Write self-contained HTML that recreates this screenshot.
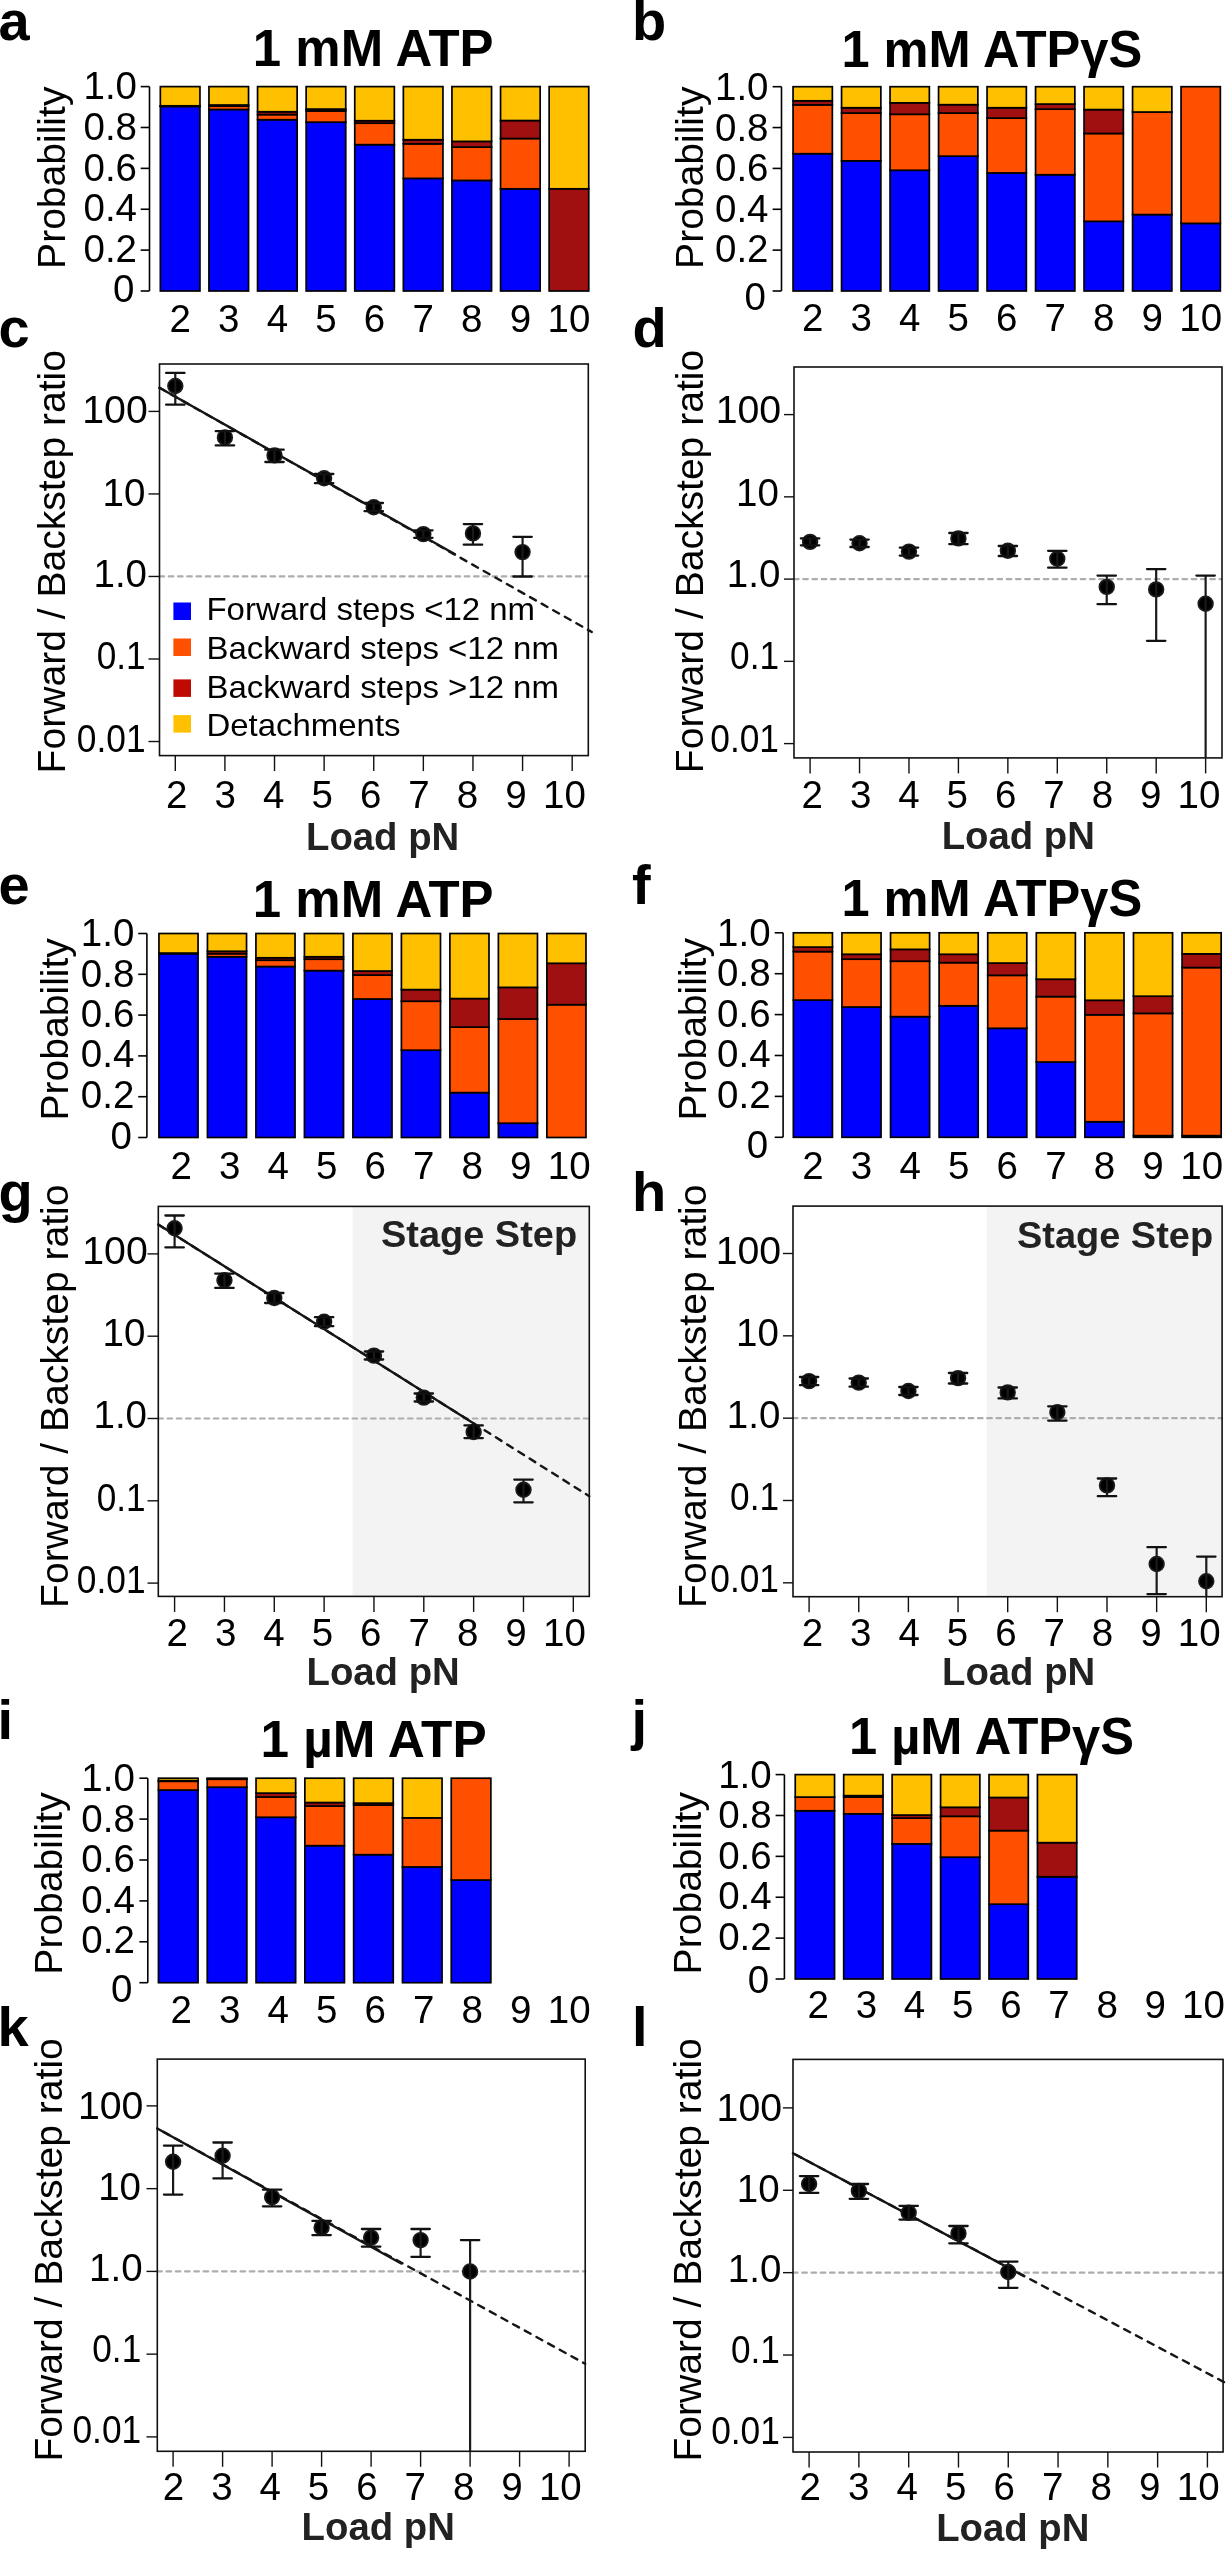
<!DOCTYPE html>
<html><head><meta charset="utf-8"><style>
html,body{margin:0;padding:0;background:#fff;}
svg{display:block;will-change:transform;}
text{font-family:"Liberation Sans", sans-serif;}
</style></head><body>
<svg width="1226" height="2550" viewBox="0 0 1226 2550">
<rect x="0" y="0" width="1226" height="2550" fill="#fff"/>
<text transform="translate(-1.50 40.00)" font-size="56" text-anchor="start" font-weight="bold" fill="#000">a</text>
<text transform="translate(373.20 66.20) scale(0.9710 1)" font-size="52.5" text-anchor="middle" font-weight="bold" fill="#000">1 mM ATP</text>
<line x1="149.50" y1="86.60" x2="149.50" y2="291.00" stroke="#000" stroke-width="1.6" stroke-linecap="butt"/>
<line x1="140.70" y1="291.00" x2="149.50" y2="291.00" stroke="#000" stroke-width="1.6" stroke-linecap="butt"/>
<line x1="140.70" y1="250.12" x2="149.50" y2="250.12" stroke="#000" stroke-width="1.6" stroke-linecap="butt"/>
<line x1="140.70" y1="209.24" x2="149.50" y2="209.24" stroke="#000" stroke-width="1.6" stroke-linecap="butt"/>
<line x1="140.70" y1="168.36" x2="149.50" y2="168.36" stroke="#000" stroke-width="1.6" stroke-linecap="butt"/>
<line x1="140.70" y1="127.48" x2="149.50" y2="127.48" stroke="#000" stroke-width="1.6" stroke-linecap="butt"/>
<line x1="140.70" y1="86.60" x2="149.50" y2="86.60" stroke="#000" stroke-width="1.6" stroke-linecap="butt"/>
<text transform="translate(134.50 302.30)" font-size="38.5" text-anchor="end" font-weight="normal" fill="#000">0</text>
<text transform="translate(137.00 261.60)" font-size="38.5" text-anchor="end" font-weight="normal" fill="#000">0.2</text>
<text transform="translate(137.00 221.00)" font-size="38.5" text-anchor="end" font-weight="normal" fill="#000">0.4</text>
<text transform="translate(137.00 180.60)" font-size="38.5" text-anchor="end" font-weight="normal" fill="#000">0.6</text>
<text transform="translate(137.00 140.00)" font-size="38.5" text-anchor="end" font-weight="normal" fill="#000">0.8</text>
<text transform="translate(137.00 99.20)" font-size="38.5" text-anchor="end" font-weight="normal" fill="#000">1.0</text>
<text transform="translate(64.50 177.75) rotate(-90) scale(1.0070 1)" font-size="38.8" text-anchor="middle" font-weight="normal" fill="#000">Probability</text>
<rect x="160.35" y="106.43" width="39.60" height="184.57" fill="#0000ff" stroke="#000" stroke-width="1.7"/>
<rect x="160.35" y="106.22" width="39.60" height="0.20" fill="#ff5000" stroke="#000" stroke-width="1.7"/>
<rect x="160.35" y="105.81" width="39.60" height="0.41" fill="#a01010" stroke="#000" stroke-width="1.7"/>
<rect x="160.35" y="86.60" width="39.60" height="19.21" fill="#ffc000" stroke="#000" stroke-width="1.7"/>
<rect x="208.95" y="109.49" width="39.60" height="181.51" fill="#0000ff" stroke="#000" stroke-width="1.7"/>
<rect x="208.95" y="106.02" width="39.60" height="3.47" fill="#ff5000" stroke="#000" stroke-width="1.7"/>
<rect x="208.95" y="105.00" width="39.60" height="1.02" fill="#a01010" stroke="#000" stroke-width="1.7"/>
<rect x="208.95" y="86.60" width="39.60" height="18.40" fill="#ffc000" stroke="#000" stroke-width="1.7"/>
<rect x="257.55" y="119.71" width="39.60" height="171.29" fill="#0000ff" stroke="#000" stroke-width="1.7"/>
<rect x="257.55" y="114.60" width="39.60" height="5.11" fill="#ff5000" stroke="#000" stroke-width="1.7"/>
<rect x="257.55" y="111.74" width="39.60" height="2.86" fill="#a01010" stroke="#000" stroke-width="1.7"/>
<rect x="257.55" y="86.60" width="39.60" height="25.14" fill="#ffc000" stroke="#000" stroke-width="1.7"/>
<rect x="306.15" y="122.17" width="39.60" height="168.83" fill="#0000ff" stroke="#000" stroke-width="1.7"/>
<rect x="306.15" y="110.92" width="39.60" height="11.24" fill="#ff5000" stroke="#000" stroke-width="1.7"/>
<rect x="306.15" y="109.08" width="39.60" height="1.84" fill="#a01010" stroke="#000" stroke-width="1.7"/>
<rect x="306.15" y="86.60" width="39.60" height="22.48" fill="#ffc000" stroke="#000" stroke-width="1.7"/>
<rect x="354.75" y="144.65" width="39.60" height="146.35" fill="#0000ff" stroke="#000" stroke-width="1.7"/>
<rect x="354.75" y="123.19" width="39.60" height="21.46" fill="#ff5000" stroke="#000" stroke-width="1.7"/>
<rect x="354.75" y="120.73" width="39.60" height="2.45" fill="#a01010" stroke="#000" stroke-width="1.7"/>
<rect x="354.75" y="86.60" width="39.60" height="34.13" fill="#ffc000" stroke="#000" stroke-width="1.7"/>
<rect x="403.35" y="178.38" width="39.60" height="112.62" fill="#0000ff" stroke="#000" stroke-width="1.7"/>
<rect x="403.35" y="143.83" width="39.60" height="34.54" fill="#ff5000" stroke="#000" stroke-width="1.7"/>
<rect x="403.35" y="139.74" width="39.60" height="4.09" fill="#a01010" stroke="#000" stroke-width="1.7"/>
<rect x="403.35" y="86.60" width="39.60" height="53.14" fill="#ffc000" stroke="#000" stroke-width="1.7"/>
<rect x="451.95" y="180.42" width="39.60" height="110.58" fill="#0000ff" stroke="#000" stroke-width="1.7"/>
<rect x="451.95" y="147.10" width="39.60" height="33.32" fill="#ff5000" stroke="#000" stroke-width="1.7"/>
<rect x="451.95" y="141.38" width="39.60" height="5.72" fill="#a01010" stroke="#000" stroke-width="1.7"/>
<rect x="451.95" y="86.60" width="39.60" height="54.78" fill="#ffc000" stroke="#000" stroke-width="1.7"/>
<rect x="500.55" y="188.80" width="39.60" height="102.20" fill="#0000ff" stroke="#000" stroke-width="1.7"/>
<rect x="500.55" y="138.52" width="39.60" height="50.28" fill="#ff5000" stroke="#000" stroke-width="1.7"/>
<rect x="500.55" y="120.53" width="39.60" height="17.99" fill="#a01010" stroke="#000" stroke-width="1.7"/>
<rect x="500.55" y="86.60" width="39.60" height="33.93" fill="#ffc000" stroke="#000" stroke-width="1.7"/>
<rect x="549.15" y="188.80" width="39.60" height="102.20" fill="#a01010" stroke="#000" stroke-width="1.7"/>
<rect x="549.15" y="86.60" width="39.60" height="102.20" fill="#ffc000" stroke="#000" stroke-width="1.7"/>
<text transform="translate(180.15 331.80)" font-size="38.5" text-anchor="middle" font-weight="normal" fill="#000">2</text>
<text transform="translate(228.75 331.80)" font-size="38.5" text-anchor="middle" font-weight="normal" fill="#000">3</text>
<text transform="translate(277.35 331.80)" font-size="38.5" text-anchor="middle" font-weight="normal" fill="#000">4</text>
<text transform="translate(325.95 331.80)" font-size="38.5" text-anchor="middle" font-weight="normal" fill="#000">5</text>
<text transform="translate(374.55 331.80)" font-size="38.5" text-anchor="middle" font-weight="normal" fill="#000">6</text>
<text transform="translate(423.15 331.80)" font-size="38.5" text-anchor="middle" font-weight="normal" fill="#000">7</text>
<text transform="translate(471.75 331.80)" font-size="38.5" text-anchor="middle" font-weight="normal" fill="#000">8</text>
<text transform="translate(520.35 331.80)" font-size="38.5" text-anchor="middle" font-weight="normal" fill="#000">9</text>
<text transform="translate(568.95 331.80)" font-size="38.5" text-anchor="middle" font-weight="normal" fill="#000">10</text>
<text transform="translate(632.00 40.00)" font-size="56" text-anchor="start" font-weight="bold" fill="#000">b</text>
<text transform="translate(991.80 66.50) scale(0.9635 1)" font-size="52.5" text-anchor="middle" font-weight="bold" fill="#000">1 mM ATP&#947;S</text>
<line x1="781.50" y1="86.70" x2="781.50" y2="291.00" stroke="#000" stroke-width="1.6" stroke-linecap="butt"/>
<line x1="772.60" y1="291.00" x2="781.50" y2="291.00" stroke="#000" stroke-width="1.6" stroke-linecap="butt"/>
<line x1="772.60" y1="250.14" x2="781.50" y2="250.14" stroke="#000" stroke-width="1.6" stroke-linecap="butt"/>
<line x1="772.60" y1="209.28" x2="781.50" y2="209.28" stroke="#000" stroke-width="1.6" stroke-linecap="butt"/>
<line x1="772.60" y1="168.42" x2="781.50" y2="168.42" stroke="#000" stroke-width="1.6" stroke-linecap="butt"/>
<line x1="772.60" y1="127.56" x2="781.50" y2="127.56" stroke="#000" stroke-width="1.6" stroke-linecap="butt"/>
<line x1="772.60" y1="86.70" x2="781.50" y2="86.70" stroke="#000" stroke-width="1.6" stroke-linecap="butt"/>
<text transform="translate(766.00 310.20)" font-size="38.5" text-anchor="end" font-weight="normal" fill="#000">0</text>
<text transform="translate(768.50 262.10)" font-size="38.5" text-anchor="end" font-weight="normal" fill="#000">0.2</text>
<text transform="translate(768.50 221.50)" font-size="38.5" text-anchor="end" font-weight="normal" fill="#000">0.4</text>
<text transform="translate(768.50 180.90)" font-size="38.5" text-anchor="end" font-weight="normal" fill="#000">0.6</text>
<text transform="translate(768.50 140.60)" font-size="38.5" text-anchor="end" font-weight="normal" fill="#000">0.8</text>
<text transform="translate(768.50 100.10)" font-size="38.5" text-anchor="end" font-weight="normal" fill="#000">1.0</text>
<text transform="translate(703.10 177.75) rotate(-90) scale(1.0070 1)" font-size="38.8" text-anchor="middle" font-weight="normal" fill="#000">Probability</text>
<rect x="793.05" y="153.71" width="39.30" height="137.29" fill="#0000ff" stroke="#000" stroke-width="1.7"/>
<rect x="793.05" y="104.88" width="39.30" height="48.83" fill="#ff5000" stroke="#000" stroke-width="1.7"/>
<rect x="793.05" y="100.80" width="39.30" height="4.09" fill="#a01010" stroke="#000" stroke-width="1.7"/>
<rect x="793.05" y="86.70" width="39.30" height="14.10" fill="#ffc000" stroke="#000" stroke-width="1.7"/>
<rect x="841.55" y="160.86" width="39.30" height="130.14" fill="#0000ff" stroke="#000" stroke-width="1.7"/>
<rect x="841.55" y="113.05" width="39.30" height="47.81" fill="#ff5000" stroke="#000" stroke-width="1.7"/>
<rect x="841.55" y="107.74" width="39.30" height="5.31" fill="#a01010" stroke="#000" stroke-width="1.7"/>
<rect x="841.55" y="86.70" width="39.30" height="21.04" fill="#ffc000" stroke="#000" stroke-width="1.7"/>
<rect x="890.05" y="170.26" width="39.30" height="120.74" fill="#0000ff" stroke="#000" stroke-width="1.7"/>
<rect x="890.05" y="114.28" width="39.30" height="55.98" fill="#ff5000" stroke="#000" stroke-width="1.7"/>
<rect x="890.05" y="102.84" width="39.30" height="11.44" fill="#a01010" stroke="#000" stroke-width="1.7"/>
<rect x="890.05" y="86.70" width="39.30" height="16.14" fill="#ffc000" stroke="#000" stroke-width="1.7"/>
<rect x="938.55" y="156.16" width="39.30" height="134.84" fill="#0000ff" stroke="#000" stroke-width="1.7"/>
<rect x="938.55" y="113.05" width="39.30" height="43.11" fill="#ff5000" stroke="#000" stroke-width="1.7"/>
<rect x="938.55" y="104.68" width="39.30" height="8.38" fill="#a01010" stroke="#000" stroke-width="1.7"/>
<rect x="938.55" y="86.70" width="39.30" height="17.98" fill="#ffc000" stroke="#000" stroke-width="1.7"/>
<rect x="987.05" y="172.91" width="39.30" height="118.09" fill="#0000ff" stroke="#000" stroke-width="1.7"/>
<rect x="987.05" y="118.16" width="39.30" height="54.75" fill="#ff5000" stroke="#000" stroke-width="1.7"/>
<rect x="987.05" y="107.74" width="39.30" height="10.42" fill="#a01010" stroke="#000" stroke-width="1.7"/>
<rect x="987.05" y="86.70" width="39.30" height="21.04" fill="#ffc000" stroke="#000" stroke-width="1.7"/>
<rect x="1035.55" y="174.75" width="39.30" height="116.25" fill="#0000ff" stroke="#000" stroke-width="1.7"/>
<rect x="1035.55" y="109.17" width="39.30" height="65.58" fill="#ff5000" stroke="#000" stroke-width="1.7"/>
<rect x="1035.55" y="104.07" width="39.30" height="5.11" fill="#a01010" stroke="#000" stroke-width="1.7"/>
<rect x="1035.55" y="86.70" width="39.30" height="17.37" fill="#ffc000" stroke="#000" stroke-width="1.7"/>
<rect x="1084.05" y="221.33" width="39.30" height="69.67" fill="#0000ff" stroke="#000" stroke-width="1.7"/>
<rect x="1084.05" y="133.48" width="39.30" height="87.85" fill="#ff5000" stroke="#000" stroke-width="1.7"/>
<rect x="1084.05" y="109.58" width="39.30" height="23.90" fill="#a01010" stroke="#000" stroke-width="1.7"/>
<rect x="1084.05" y="86.70" width="39.30" height="22.88" fill="#ffc000" stroke="#000" stroke-width="1.7"/>
<rect x="1132.55" y="214.59" width="39.30" height="76.41" fill="#0000ff" stroke="#000" stroke-width="1.7"/>
<rect x="1132.55" y="112.03" width="39.30" height="102.56" fill="#ff5000" stroke="#000" stroke-width="1.7"/>
<rect x="1132.55" y="86.70" width="39.30" height="25.33" fill="#ffc000" stroke="#000" stroke-width="1.7"/>
<rect x="1181.05" y="223.38" width="39.30" height="67.62" fill="#0000ff" stroke="#000" stroke-width="1.7"/>
<rect x="1181.05" y="86.70" width="39.30" height="136.68" fill="#ff5000" stroke="#000" stroke-width="1.7"/>
<text transform="translate(812.70 331.40)" font-size="38.5" text-anchor="middle" font-weight="normal" fill="#000">2</text>
<text transform="translate(861.20 331.40)" font-size="38.5" text-anchor="middle" font-weight="normal" fill="#000">3</text>
<text transform="translate(909.70 331.40)" font-size="38.5" text-anchor="middle" font-weight="normal" fill="#000">4</text>
<text transform="translate(958.20 331.40)" font-size="38.5" text-anchor="middle" font-weight="normal" fill="#000">5</text>
<text transform="translate(1006.70 331.40)" font-size="38.5" text-anchor="middle" font-weight="normal" fill="#000">6</text>
<text transform="translate(1055.20 331.40)" font-size="38.5" text-anchor="middle" font-weight="normal" fill="#000">7</text>
<text transform="translate(1103.70 331.40)" font-size="38.5" text-anchor="middle" font-weight="normal" fill="#000">8</text>
<text transform="translate(1152.20 331.40)" font-size="38.5" text-anchor="middle" font-weight="normal" fill="#000">9</text>
<text transform="translate(1200.70 331.40)" font-size="38.5" text-anchor="middle" font-weight="normal" fill="#000">10</text>
<text transform="translate(-1.50 904.00)" font-size="56" text-anchor="start" font-weight="bold" fill="#000">e</text>
<text transform="translate(373.20 916.50) scale(0.9710 1)" font-size="52.5" text-anchor="middle" font-weight="bold" fill="#000">1 mM ATP</text>
<line x1="146.90" y1="933.50" x2="146.90" y2="1137.50" stroke="#000" stroke-width="1.6" stroke-linecap="butt"/>
<line x1="138.20" y1="1137.50" x2="146.90" y2="1137.50" stroke="#000" stroke-width="1.6" stroke-linecap="butt"/>
<line x1="138.20" y1="1096.70" x2="146.90" y2="1096.70" stroke="#000" stroke-width="1.6" stroke-linecap="butt"/>
<line x1="138.20" y1="1055.90" x2="146.90" y2="1055.90" stroke="#000" stroke-width="1.6" stroke-linecap="butt"/>
<line x1="138.20" y1="1015.10" x2="146.90" y2="1015.10" stroke="#000" stroke-width="1.6" stroke-linecap="butt"/>
<line x1="138.20" y1="974.30" x2="146.90" y2="974.30" stroke="#000" stroke-width="1.6" stroke-linecap="butt"/>
<line x1="138.20" y1="933.50" x2="146.90" y2="933.50" stroke="#000" stroke-width="1.6" stroke-linecap="butt"/>
<text transform="translate(131.90 1149.00)" font-size="38.5" text-anchor="end" font-weight="normal" fill="#000">0</text>
<text transform="translate(134.40 1108.20)" font-size="38.5" text-anchor="end" font-weight="normal" fill="#000">0.2</text>
<text transform="translate(134.40 1067.40)" font-size="38.5" text-anchor="end" font-weight="normal" fill="#000">0.4</text>
<text transform="translate(134.40 1027.10)" font-size="38.5" text-anchor="end" font-weight="normal" fill="#000">0.6</text>
<text transform="translate(134.40 986.60)" font-size="38.5" text-anchor="end" font-weight="normal" fill="#000">0.8</text>
<text transform="translate(134.40 945.70)" font-size="38.5" text-anchor="end" font-weight="normal" fill="#000">1.0</text>
<text transform="translate(67.60 1029.30) rotate(-90) scale(1.0070 1)" font-size="38.8" text-anchor="middle" font-weight="normal" fill="#000">Probability</text>
<rect x="158.95" y="953.70" width="39.10" height="183.80" fill="#0000ff" stroke="#000" stroke-width="1.7"/>
<rect x="158.95" y="953.49" width="39.10" height="0.20" fill="#ff5000" stroke="#000" stroke-width="1.7"/>
<rect x="158.95" y="953.08" width="39.10" height="0.41" fill="#a01010" stroke="#000" stroke-width="1.7"/>
<rect x="158.95" y="933.50" width="39.10" height="19.58" fill="#ffc000" stroke="#000" stroke-width="1.7"/>
<rect x="207.44" y="956.76" width="39.10" height="180.74" fill="#0000ff" stroke="#000" stroke-width="1.7"/>
<rect x="207.44" y="953.70" width="39.10" height="3.06" fill="#ff5000" stroke="#000" stroke-width="1.7"/>
<rect x="207.44" y="951.25" width="39.10" height="2.45" fill="#a01010" stroke="#000" stroke-width="1.7"/>
<rect x="207.44" y="933.50" width="39.10" height="17.75" fill="#ffc000" stroke="#000" stroke-width="1.7"/>
<rect x="255.93" y="966.55" width="39.10" height="170.95" fill="#0000ff" stroke="#000" stroke-width="1.7"/>
<rect x="255.93" y="960.22" width="39.10" height="6.32" fill="#ff5000" stroke="#000" stroke-width="1.7"/>
<rect x="255.93" y="957.78" width="39.10" height="2.45" fill="#a01010" stroke="#000" stroke-width="1.7"/>
<rect x="255.93" y="933.50" width="39.10" height="24.28" fill="#ffc000" stroke="#000" stroke-width="1.7"/>
<rect x="304.42" y="970.63" width="39.10" height="166.87" fill="#0000ff" stroke="#000" stroke-width="1.7"/>
<rect x="304.42" y="959.20" width="39.10" height="11.42" fill="#ff5000" stroke="#000" stroke-width="1.7"/>
<rect x="304.42" y="956.76" width="39.10" height="2.45" fill="#a01010" stroke="#000" stroke-width="1.7"/>
<rect x="304.42" y="933.50" width="39.10" height="23.26" fill="#ffc000" stroke="#000" stroke-width="1.7"/>
<rect x="352.91" y="998.98" width="39.10" height="138.52" fill="#0000ff" stroke="#000" stroke-width="1.7"/>
<rect x="352.91" y="975.12" width="39.10" height="23.87" fill="#ff5000" stroke="#000" stroke-width="1.7"/>
<rect x="352.91" y="971.04" width="39.10" height="4.08" fill="#a01010" stroke="#000" stroke-width="1.7"/>
<rect x="352.91" y="933.50" width="39.10" height="37.54" fill="#ffc000" stroke="#000" stroke-width="1.7"/>
<rect x="401.40" y="1050.19" width="39.10" height="87.31" fill="#0000ff" stroke="#000" stroke-width="1.7"/>
<rect x="401.40" y="1001.23" width="39.10" height="48.96" fill="#ff5000" stroke="#000" stroke-width="1.7"/>
<rect x="401.40" y="989.60" width="39.10" height="11.63" fill="#a01010" stroke="#000" stroke-width="1.7"/>
<rect x="401.40" y="933.50" width="39.10" height="56.10" fill="#ffc000" stroke="#000" stroke-width="1.7"/>
<rect x="449.89" y="1092.62" width="39.10" height="44.88" fill="#0000ff" stroke="#000" stroke-width="1.7"/>
<rect x="449.89" y="1027.14" width="39.10" height="65.48" fill="#ff5000" stroke="#000" stroke-width="1.7"/>
<rect x="449.89" y="998.58" width="39.10" height="28.56" fill="#a01010" stroke="#000" stroke-width="1.7"/>
<rect x="449.89" y="933.50" width="39.10" height="65.08" fill="#ffc000" stroke="#000" stroke-width="1.7"/>
<rect x="498.38" y="1123.22" width="39.10" height="14.28" fill="#0000ff" stroke="#000" stroke-width="1.7"/>
<rect x="498.38" y="1018.98" width="39.10" height="104.24" fill="#ff5000" stroke="#000" stroke-width="1.7"/>
<rect x="498.38" y="987.36" width="39.10" height="31.62" fill="#a01010" stroke="#000" stroke-width="1.7"/>
<rect x="498.38" y="933.50" width="39.10" height="53.86" fill="#ffc000" stroke="#000" stroke-width="1.7"/>
<rect x="546.87" y="1004.70" width="39.10" height="132.80" fill="#ff5000" stroke="#000" stroke-width="1.7"/>
<rect x="546.87" y="963.28" width="39.10" height="41.41" fill="#a01010" stroke="#000" stroke-width="1.7"/>
<rect x="546.87" y="933.50" width="39.10" height="29.78" fill="#ffc000" stroke="#000" stroke-width="1.7"/>
<text transform="translate(181.20 1178.70)" font-size="38.5" text-anchor="middle" font-weight="normal" fill="#000">2</text>
<text transform="translate(229.70 1178.70)" font-size="38.5" text-anchor="middle" font-weight="normal" fill="#000">3</text>
<text transform="translate(278.20 1178.70)" font-size="38.5" text-anchor="middle" font-weight="normal" fill="#000">4</text>
<text transform="translate(326.70 1178.70)" font-size="38.5" text-anchor="middle" font-weight="normal" fill="#000">5</text>
<text transform="translate(375.20 1178.70)" font-size="38.5" text-anchor="middle" font-weight="normal" fill="#000">6</text>
<text transform="translate(423.70 1178.70)" font-size="38.5" text-anchor="middle" font-weight="normal" fill="#000">7</text>
<text transform="translate(472.20 1178.70)" font-size="38.5" text-anchor="middle" font-weight="normal" fill="#000">8</text>
<text transform="translate(520.70 1178.70)" font-size="38.5" text-anchor="middle" font-weight="normal" fill="#000">9</text>
<text transform="translate(569.20 1178.70)" font-size="38.5" text-anchor="middle" font-weight="normal" fill="#000">10</text>
<text transform="translate(632.00 904.00)" font-size="56" text-anchor="start" font-weight="bold" fill="#000">f</text>
<text transform="translate(991.80 916.40) scale(0.9635 1)" font-size="52.5" text-anchor="middle" font-weight="bold" fill="#000">1 mM ATP&#947;S</text>
<line x1="783.10" y1="932.80" x2="783.10" y2="1137.30" stroke="#000" stroke-width="1.6" stroke-linecap="butt"/>
<line x1="774.70" y1="1137.30" x2="783.10" y2="1137.30" stroke="#000" stroke-width="1.6" stroke-linecap="butt"/>
<line x1="774.70" y1="1096.40" x2="783.10" y2="1096.40" stroke="#000" stroke-width="1.6" stroke-linecap="butt"/>
<line x1="774.70" y1="1055.50" x2="783.10" y2="1055.50" stroke="#000" stroke-width="1.6" stroke-linecap="butt"/>
<line x1="774.70" y1="1014.60" x2="783.10" y2="1014.60" stroke="#000" stroke-width="1.6" stroke-linecap="butt"/>
<line x1="774.70" y1="973.70" x2="783.10" y2="973.70" stroke="#000" stroke-width="1.6" stroke-linecap="butt"/>
<line x1="774.70" y1="932.80" x2="783.10" y2="932.80" stroke="#000" stroke-width="1.6" stroke-linecap="butt"/>
<text transform="translate(768.10 1157.50)" font-size="38.5" text-anchor="end" font-weight="normal" fill="#000">0</text>
<text transform="translate(770.60 1107.70)" font-size="38.5" text-anchor="end" font-weight="normal" fill="#000">0.2</text>
<text transform="translate(770.60 1066.90)" font-size="38.5" text-anchor="end" font-weight="normal" fill="#000">0.4</text>
<text transform="translate(770.60 1026.90)" font-size="38.5" text-anchor="end" font-weight="normal" fill="#000">0.6</text>
<text transform="translate(770.60 986.30)" font-size="38.5" text-anchor="end" font-weight="normal" fill="#000">0.8</text>
<text transform="translate(770.60 945.70)" font-size="38.5" text-anchor="end" font-weight="normal" fill="#000">1.0</text>
<text transform="translate(706.00 1029.20) rotate(-90) scale(1.0070 1)" font-size="38.8" text-anchor="middle" font-weight="normal" fill="#000">Probability</text>
<rect x="793.35" y="1000.08" width="39.10" height="137.22" fill="#0000ff" stroke="#000" stroke-width="1.7"/>
<rect x="793.35" y="951.61" width="39.10" height="48.47" fill="#ff5000" stroke="#000" stroke-width="1.7"/>
<rect x="793.35" y="947.12" width="39.10" height="4.50" fill="#a01010" stroke="#000" stroke-width="1.7"/>
<rect x="793.35" y="932.80" width="39.10" height="14.31" fill="#ffc000" stroke="#000" stroke-width="1.7"/>
<rect x="841.94" y="1007.03" width="39.10" height="130.27" fill="#0000ff" stroke="#000" stroke-width="1.7"/>
<rect x="841.94" y="959.18" width="39.10" height="47.85" fill="#ff5000" stroke="#000" stroke-width="1.7"/>
<rect x="841.94" y="954.27" width="39.10" height="4.91" fill="#a01010" stroke="#000" stroke-width="1.7"/>
<rect x="841.94" y="932.80" width="39.10" height="21.47" fill="#ffc000" stroke="#000" stroke-width="1.7"/>
<rect x="890.53" y="1016.64" width="39.10" height="120.65" fill="#0000ff" stroke="#000" stroke-width="1.7"/>
<rect x="890.53" y="961.23" width="39.10" height="55.42" fill="#ff5000" stroke="#000" stroke-width="1.7"/>
<rect x="890.53" y="949.36" width="39.10" height="11.86" fill="#a01010" stroke="#000" stroke-width="1.7"/>
<rect x="890.53" y="932.80" width="39.10" height="16.56" fill="#ffc000" stroke="#000" stroke-width="1.7"/>
<rect x="939.12" y="1005.81" width="39.10" height="131.49" fill="#0000ff" stroke="#000" stroke-width="1.7"/>
<rect x="939.12" y="962.66" width="39.10" height="43.15" fill="#ff5000" stroke="#000" stroke-width="1.7"/>
<rect x="939.12" y="954.27" width="39.10" height="8.38" fill="#a01010" stroke="#000" stroke-width="1.7"/>
<rect x="939.12" y="932.80" width="39.10" height="21.47" fill="#ffc000" stroke="#000" stroke-width="1.7"/>
<rect x="987.71" y="1028.30" width="39.10" height="109.00" fill="#0000ff" stroke="#000" stroke-width="1.7"/>
<rect x="987.71" y="975.34" width="39.10" height="52.97" fill="#ff5000" stroke="#000" stroke-width="1.7"/>
<rect x="987.71" y="963.07" width="39.10" height="12.27" fill="#a01010" stroke="#000" stroke-width="1.7"/>
<rect x="987.71" y="932.80" width="39.10" height="30.27" fill="#ffc000" stroke="#000" stroke-width="1.7"/>
<rect x="1036.30" y="1062.04" width="39.10" height="75.26" fill="#0000ff" stroke="#000" stroke-width="1.7"/>
<rect x="1036.30" y="996.60" width="39.10" height="65.44" fill="#ff5000" stroke="#000" stroke-width="1.7"/>
<rect x="1036.30" y="979.22" width="39.10" height="17.38" fill="#a01010" stroke="#000" stroke-width="1.7"/>
<rect x="1036.30" y="932.80" width="39.10" height="46.42" fill="#ffc000" stroke="#000" stroke-width="1.7"/>
<rect x="1084.89" y="1121.76" width="39.10" height="15.54" fill="#0000ff" stroke="#000" stroke-width="1.7"/>
<rect x="1084.89" y="1014.80" width="39.10" height="106.95" fill="#ff5000" stroke="#000" stroke-width="1.7"/>
<rect x="1084.89" y="1000.28" width="39.10" height="14.52" fill="#a01010" stroke="#000" stroke-width="1.7"/>
<rect x="1084.89" y="932.80" width="39.10" height="67.48" fill="#ffc000" stroke="#000" stroke-width="1.7"/>
<rect x="1133.48" y="1135.66" width="39.10" height="1.64" fill="#0000ff" stroke="#000" stroke-width="1.7"/>
<rect x="1133.48" y="1013.37" width="39.10" height="122.29" fill="#ff5000" stroke="#000" stroke-width="1.7"/>
<rect x="1133.48" y="996.19" width="39.10" height="17.18" fill="#a01010" stroke="#000" stroke-width="1.7"/>
<rect x="1133.48" y="932.80" width="39.10" height="63.40" fill="#ffc000" stroke="#000" stroke-width="1.7"/>
<rect x="1182.07" y="1135.66" width="39.10" height="1.64" fill="#0000ff" stroke="#000" stroke-width="1.7"/>
<rect x="1182.07" y="967.56" width="39.10" height="168.10" fill="#ff5000" stroke="#000" stroke-width="1.7"/>
<rect x="1182.07" y="953.86" width="39.10" height="13.70" fill="#a01010" stroke="#000" stroke-width="1.7"/>
<rect x="1182.07" y="932.80" width="39.10" height="21.06" fill="#ffc000" stroke="#000" stroke-width="1.7"/>
<text transform="translate(812.90 1178.80)" font-size="38.5" text-anchor="middle" font-weight="normal" fill="#000">2</text>
<text transform="translate(861.49 1178.80)" font-size="38.5" text-anchor="middle" font-weight="normal" fill="#000">3</text>
<text transform="translate(910.08 1178.80)" font-size="38.5" text-anchor="middle" font-weight="normal" fill="#000">4</text>
<text transform="translate(958.67 1178.80)" font-size="38.5" text-anchor="middle" font-weight="normal" fill="#000">5</text>
<text transform="translate(1007.26 1178.80)" font-size="38.5" text-anchor="middle" font-weight="normal" fill="#000">6</text>
<text transform="translate(1055.85 1178.80)" font-size="38.5" text-anchor="middle" font-weight="normal" fill="#000">7</text>
<text transform="translate(1104.44 1178.80)" font-size="38.5" text-anchor="middle" font-weight="normal" fill="#000">8</text>
<text transform="translate(1153.03 1178.80)" font-size="38.5" text-anchor="middle" font-weight="normal" fill="#000">9</text>
<text transform="translate(1201.62 1178.80)" font-size="38.5" text-anchor="middle" font-weight="normal" fill="#000">10</text>
<text transform="translate(-2.50 1738.70)" font-size="56" text-anchor="start" font-weight="bold" fill="#000">i</text>
<text transform="translate(373.55 1757.20) scale(0.9766 1)" font-size="52.5" text-anchor="middle" font-weight="bold" fill="#000">1 &#181;M ATP</text>
<line x1="147.80" y1="1778.20" x2="147.80" y2="1982.70" stroke="#000" stroke-width="1.6" stroke-linecap="butt"/>
<line x1="139.40" y1="1982.70" x2="147.80" y2="1982.70" stroke="#000" stroke-width="1.6" stroke-linecap="butt"/>
<line x1="139.40" y1="1941.80" x2="147.80" y2="1941.80" stroke="#000" stroke-width="1.6" stroke-linecap="butt"/>
<line x1="139.40" y1="1900.90" x2="147.80" y2="1900.90" stroke="#000" stroke-width="1.6" stroke-linecap="butt"/>
<line x1="139.40" y1="1860.00" x2="147.80" y2="1860.00" stroke="#000" stroke-width="1.6" stroke-linecap="butt"/>
<line x1="139.40" y1="1819.10" x2="147.80" y2="1819.10" stroke="#000" stroke-width="1.6" stroke-linecap="butt"/>
<line x1="139.40" y1="1778.20" x2="147.80" y2="1778.20" stroke="#000" stroke-width="1.6" stroke-linecap="butt"/>
<text transform="translate(132.40 2001.50)" font-size="38.5" text-anchor="end" font-weight="normal" fill="#000">0</text>
<text transform="translate(134.90 1953.40)" font-size="38.5" text-anchor="end" font-weight="normal" fill="#000">0.2</text>
<text transform="translate(134.90 1912.60)" font-size="38.5" text-anchor="end" font-weight="normal" fill="#000">0.4</text>
<text transform="translate(134.90 1872.30)" font-size="38.5" text-anchor="end" font-weight="normal" fill="#000">0.6</text>
<text transform="translate(134.90 1831.50)" font-size="38.5" text-anchor="end" font-weight="normal" fill="#000">0.8</text>
<text transform="translate(134.90 1791.00)" font-size="38.5" text-anchor="end" font-weight="normal" fill="#000">1.0</text>
<text transform="translate(62.30 1883.50) rotate(-90) scale(1.0070 1)" font-size="38.8" text-anchor="middle" font-weight="normal" fill="#000">Probability</text>
<rect x="158.45" y="1790.06" width="39.60" height="192.64" fill="#0000ff" stroke="#000" stroke-width="1.7"/>
<rect x="158.45" y="1781.27" width="39.60" height="8.79" fill="#ff5000" stroke="#000" stroke-width="1.7"/>
<rect x="158.45" y="1780.65" width="39.60" height="0.61" fill="#a01010" stroke="#000" stroke-width="1.7"/>
<rect x="158.45" y="1778.20" width="39.60" height="2.45" fill="#ffc000" stroke="#000" stroke-width="1.7"/>
<rect x="207.25" y="1787.20" width="39.60" height="195.50" fill="#0000ff" stroke="#000" stroke-width="1.7"/>
<rect x="207.25" y="1779.22" width="39.60" height="7.98" fill="#ff5000" stroke="#000" stroke-width="1.7"/>
<rect x="207.25" y="1778.81" width="39.60" height="0.41" fill="#a01010" stroke="#000" stroke-width="1.7"/>
<rect x="207.25" y="1778.20" width="39.60" height="0.61" fill="#ffc000" stroke="#000" stroke-width="1.7"/>
<rect x="256.05" y="1817.26" width="39.60" height="165.44" fill="#0000ff" stroke="#000" stroke-width="1.7"/>
<rect x="256.05" y="1797.01" width="39.60" height="20.25" fill="#ff5000" stroke="#000" stroke-width="1.7"/>
<rect x="256.05" y="1793.13" width="39.60" height="3.89" fill="#a01010" stroke="#000" stroke-width="1.7"/>
<rect x="256.05" y="1778.20" width="39.60" height="14.93" fill="#ffc000" stroke="#000" stroke-width="1.7"/>
<rect x="304.85" y="1845.68" width="39.60" height="137.02" fill="#0000ff" stroke="#000" stroke-width="1.7"/>
<rect x="304.85" y="1806.01" width="39.60" height="39.67" fill="#ff5000" stroke="#000" stroke-width="1.7"/>
<rect x="304.85" y="1802.54" width="39.60" height="3.48" fill="#a01010" stroke="#000" stroke-width="1.7"/>
<rect x="304.85" y="1778.20" width="39.60" height="24.34" fill="#ffc000" stroke="#000" stroke-width="1.7"/>
<rect x="353.65" y="1854.68" width="39.60" height="128.02" fill="#0000ff" stroke="#000" stroke-width="1.7"/>
<rect x="353.65" y="1804.99" width="39.60" height="49.69" fill="#ff5000" stroke="#000" stroke-width="1.7"/>
<rect x="353.65" y="1803.15" width="39.60" height="1.84" fill="#a01010" stroke="#000" stroke-width="1.7"/>
<rect x="353.65" y="1778.20" width="39.60" height="24.95" fill="#ffc000" stroke="#000" stroke-width="1.7"/>
<rect x="402.45" y="1866.95" width="39.60" height="115.75" fill="#0000ff" stroke="#000" stroke-width="1.7"/>
<rect x="402.45" y="1817.87" width="39.60" height="49.08" fill="#ff5000" stroke="#000" stroke-width="1.7"/>
<rect x="402.45" y="1778.20" width="39.60" height="39.67" fill="#ffc000" stroke="#000" stroke-width="1.7"/>
<rect x="451.25" y="1880.04" width="39.60" height="102.66" fill="#0000ff" stroke="#000" stroke-width="1.7"/>
<rect x="451.25" y="1778.20" width="39.60" height="101.84" fill="#ff5000" stroke="#000" stroke-width="1.7"/>
<text transform="translate(181.20 2022.60)" font-size="38.5" text-anchor="middle" font-weight="normal" fill="#000">2</text>
<text transform="translate(229.70 2022.60)" font-size="38.5" text-anchor="middle" font-weight="normal" fill="#000">3</text>
<text transform="translate(278.20 2022.60)" font-size="38.5" text-anchor="middle" font-weight="normal" fill="#000">4</text>
<text transform="translate(326.70 2022.60)" font-size="38.5" text-anchor="middle" font-weight="normal" fill="#000">5</text>
<text transform="translate(375.20 2022.60)" font-size="38.5" text-anchor="middle" font-weight="normal" fill="#000">6</text>
<text transform="translate(423.70 2022.60)" font-size="38.5" text-anchor="middle" font-weight="normal" fill="#000">7</text>
<text transform="translate(472.20 2022.60)" font-size="38.5" text-anchor="middle" font-weight="normal" fill="#000">8</text>
<text transform="translate(520.70 2022.60)" font-size="38.5" text-anchor="middle" font-weight="normal" fill="#000">9</text>
<text transform="translate(569.20 2022.60)" font-size="38.5" text-anchor="middle" font-weight="normal" fill="#000">10</text>
<text transform="translate(631.50 1738.70)" font-size="56" text-anchor="start" font-weight="bold" fill="#000">j</text>
<text transform="translate(991.50 1754.20) scale(0.9640 1)" font-size="52.5" text-anchor="middle" font-weight="bold" fill="#000">1 &#181;M ATP&#947;S</text>
<line x1="784.40" y1="1774.60" x2="784.40" y2="1979.00" stroke="#000" stroke-width="1.6" stroke-linecap="butt"/>
<line x1="775.60" y1="1979.00" x2="784.40" y2="1979.00" stroke="#000" stroke-width="1.6" stroke-linecap="butt"/>
<line x1="775.60" y1="1938.12" x2="784.40" y2="1938.12" stroke="#000" stroke-width="1.6" stroke-linecap="butt"/>
<line x1="775.60" y1="1897.24" x2="784.40" y2="1897.24" stroke="#000" stroke-width="1.6" stroke-linecap="butt"/>
<line x1="775.60" y1="1856.36" x2="784.40" y2="1856.36" stroke="#000" stroke-width="1.6" stroke-linecap="butt"/>
<line x1="775.60" y1="1815.48" x2="784.40" y2="1815.48" stroke="#000" stroke-width="1.6" stroke-linecap="butt"/>
<line x1="775.60" y1="1774.60" x2="784.40" y2="1774.60" stroke="#000" stroke-width="1.6" stroke-linecap="butt"/>
<text transform="translate(769.20 1992.70)" font-size="38.5" text-anchor="end" font-weight="normal" fill="#000">0</text>
<text transform="translate(771.70 1949.70)" font-size="38.5" text-anchor="end" font-weight="normal" fill="#000">0.2</text>
<text transform="translate(771.70 1908.90)" font-size="38.5" text-anchor="end" font-weight="normal" fill="#000">0.4</text>
<text transform="translate(771.70 1868.80)" font-size="38.5" text-anchor="end" font-weight="normal" fill="#000">0.6</text>
<text transform="translate(771.70 1828.10)" font-size="38.5" text-anchor="end" font-weight="normal" fill="#000">0.8</text>
<text transform="translate(771.70 1787.50)" font-size="38.5" text-anchor="end" font-weight="normal" fill="#000">1.0</text>
<text transform="translate(701.00 1883.20) rotate(-90) scale(1.0070 1)" font-size="38.8" text-anchor="middle" font-weight="normal" fill="#000">Probability</text>
<rect x="795.25" y="1810.78" width="39.30" height="168.22" fill="#0000ff" stroke="#000" stroke-width="1.7"/>
<rect x="795.25" y="1797.08" width="39.30" height="13.69" fill="#ff5000" stroke="#000" stroke-width="1.7"/>
<rect x="795.25" y="1774.60" width="39.30" height="22.48" fill="#ffc000" stroke="#000" stroke-width="1.7"/>
<rect x="843.69" y="1813.84" width="39.30" height="165.16" fill="#0000ff" stroke="#000" stroke-width="1.7"/>
<rect x="843.69" y="1797.08" width="39.30" height="16.76" fill="#ff5000" stroke="#000" stroke-width="1.7"/>
<rect x="843.69" y="1795.65" width="39.30" height="1.43" fill="#a01010" stroke="#000" stroke-width="1.7"/>
<rect x="843.69" y="1774.60" width="39.30" height="21.05" fill="#ffc000" stroke="#000" stroke-width="1.7"/>
<rect x="892.13" y="1843.89" width="39.30" height="135.11" fill="#0000ff" stroke="#000" stroke-width="1.7"/>
<rect x="892.13" y="1818.14" width="39.30" height="25.75" fill="#ff5000" stroke="#000" stroke-width="1.7"/>
<rect x="892.13" y="1815.07" width="39.30" height="3.07" fill="#a01010" stroke="#000" stroke-width="1.7"/>
<rect x="892.13" y="1774.60" width="39.30" height="40.47" fill="#ffc000" stroke="#000" stroke-width="1.7"/>
<rect x="940.57" y="1857.18" width="39.30" height="121.82" fill="#0000ff" stroke="#000" stroke-width="1.7"/>
<rect x="940.57" y="1816.30" width="39.30" height="40.88" fill="#ff5000" stroke="#000" stroke-width="1.7"/>
<rect x="940.57" y="1807.30" width="39.30" height="8.99" fill="#a01010" stroke="#000" stroke-width="1.7"/>
<rect x="940.57" y="1774.60" width="39.30" height="32.70" fill="#ffc000" stroke="#000" stroke-width="1.7"/>
<rect x="989.01" y="1904.19" width="39.30" height="74.81" fill="#0000ff" stroke="#000" stroke-width="1.7"/>
<rect x="989.01" y="1830.61" width="39.30" height="73.58" fill="#ff5000" stroke="#000" stroke-width="1.7"/>
<rect x="989.01" y="1797.49" width="39.30" height="33.11" fill="#a01010" stroke="#000" stroke-width="1.7"/>
<rect x="989.01" y="1774.60" width="39.30" height="22.89" fill="#ffc000" stroke="#000" stroke-width="1.7"/>
<rect x="1037.45" y="1876.80" width="39.30" height="102.20" fill="#0000ff" stroke="#000" stroke-width="1.7"/>
<rect x="1037.45" y="1842.67" width="39.30" height="34.13" fill="#a01010" stroke="#000" stroke-width="1.7"/>
<rect x="1037.45" y="1774.60" width="39.30" height="68.07" fill="#ffc000" stroke="#000" stroke-width="1.7"/>
<text transform="translate(818.20 2018.40)" font-size="38.5" text-anchor="middle" font-weight="normal" fill="#000">2</text>
<text transform="translate(866.36 2018.40)" font-size="38.5" text-anchor="middle" font-weight="normal" fill="#000">3</text>
<text transform="translate(914.52 2018.40)" font-size="38.5" text-anchor="middle" font-weight="normal" fill="#000">4</text>
<text transform="translate(962.68 2018.40)" font-size="38.5" text-anchor="middle" font-weight="normal" fill="#000">5</text>
<text transform="translate(1010.84 2018.40)" font-size="38.5" text-anchor="middle" font-weight="normal" fill="#000">6</text>
<text transform="translate(1059.00 2018.40)" font-size="38.5" text-anchor="middle" font-weight="normal" fill="#000">7</text>
<text transform="translate(1107.16 2018.40)" font-size="38.5" text-anchor="middle" font-weight="normal" fill="#000">8</text>
<text transform="translate(1155.32 2018.40)" font-size="38.5" text-anchor="middle" font-weight="normal" fill="#000">9</text>
<text transform="translate(1203.48 2018.40)" font-size="38.5" text-anchor="middle" font-weight="normal" fill="#000">10</text>
<text transform="translate(-1.50 347.00)" font-size="56" text-anchor="start" font-weight="bold" fill="#000">c</text>
<line x1="159.50" y1="576.46" x2="588.30" y2="576.46" stroke="#adadad" stroke-width="2.2" stroke-linecap="round" stroke-dasharray="4.6 4.65"/>
<rect x="159.50" y="364.00" width="428.80" height="391.60" fill="none" stroke="#111" stroke-width="1.6"/>
<line x1="148.50" y1="411.40" x2="159.50" y2="411.40" stroke="#111" stroke-width="1.4" stroke-linecap="butt"/>
<text transform="translate(147.80 423.40) scale(1.0200 1)" font-size="38.5" text-anchor="end" font-weight="normal" fill="#000">100</text>
<line x1="148.50" y1="493.93" x2="159.50" y2="493.93" stroke="#111" stroke-width="1.4" stroke-linecap="butt"/>
<text transform="translate(145.40 506.10)" font-size="38.5" text-anchor="end" font-weight="normal" fill="#000">10</text>
<line x1="148.50" y1="576.46" x2="159.50" y2="576.46" stroke="#111" stroke-width="1.4" stroke-linecap="butt"/>
<text transform="translate(147.00 587.30)" font-size="38.5" text-anchor="end" font-weight="normal" fill="#000">1.0</text>
<line x1="148.50" y1="658.99" x2="159.50" y2="658.99" stroke="#111" stroke-width="1.4" stroke-linecap="butt"/>
<text transform="translate(145.60 669.40) scale(0.9140 1)" font-size="38.5" text-anchor="end" font-weight="normal" fill="#000">0.1</text>
<line x1="148.50" y1="741.52" x2="159.50" y2="741.52" stroke="#111" stroke-width="1.4" stroke-linecap="butt"/>
<text transform="translate(145.60 751.70) scale(0.9180 1)" font-size="38.5" text-anchor="end" font-weight="normal" fill="#000">0.01</text>
<line x1="175.30" y1="755.60" x2="175.30" y2="771.10" stroke="#111" stroke-width="1.4" stroke-linecap="butt"/>
<text transform="translate(176.80 808.30)" font-size="38.5" text-anchor="middle" font-weight="normal" fill="#000">2</text>
<line x1="224.91" y1="755.60" x2="224.91" y2="771.10" stroke="#111" stroke-width="1.4" stroke-linecap="butt"/>
<text transform="translate(225.25 808.30)" font-size="38.5" text-anchor="middle" font-weight="normal" fill="#000">3</text>
<line x1="274.52" y1="755.60" x2="274.52" y2="771.10" stroke="#111" stroke-width="1.4" stroke-linecap="butt"/>
<text transform="translate(273.70 808.30)" font-size="38.5" text-anchor="middle" font-weight="normal" fill="#000">4</text>
<line x1="324.13" y1="755.60" x2="324.13" y2="771.10" stroke="#111" stroke-width="1.4" stroke-linecap="butt"/>
<text transform="translate(322.15 808.30)" font-size="38.5" text-anchor="middle" font-weight="normal" fill="#000">5</text>
<line x1="373.74" y1="755.60" x2="373.74" y2="771.10" stroke="#111" stroke-width="1.4" stroke-linecap="butt"/>
<text transform="translate(370.60 808.30)" font-size="38.5" text-anchor="middle" font-weight="normal" fill="#000">6</text>
<line x1="423.35" y1="755.60" x2="423.35" y2="771.10" stroke="#111" stroke-width="1.4" stroke-linecap="butt"/>
<text transform="translate(419.05 808.30)" font-size="38.5" text-anchor="middle" font-weight="normal" fill="#000">7</text>
<line x1="472.96" y1="755.60" x2="472.96" y2="771.10" stroke="#111" stroke-width="1.4" stroke-linecap="butt"/>
<text transform="translate(467.50 808.30)" font-size="38.5" text-anchor="middle" font-weight="normal" fill="#000">8</text>
<line x1="522.57" y1="755.60" x2="522.57" y2="771.10" stroke="#111" stroke-width="1.4" stroke-linecap="butt"/>
<text transform="translate(515.95 808.30)" font-size="38.5" text-anchor="middle" font-weight="normal" fill="#000">9</text>
<line x1="572.18" y1="755.60" x2="572.18" y2="771.10" stroke="#111" stroke-width="1.4" stroke-linecap="butt"/>
<text transform="translate(564.40 808.30)" font-size="38.5" text-anchor="middle" font-weight="normal" fill="#000">10</text>
<text transform="translate(382.60 849.60)" font-size="38.3" text-anchor="middle" font-weight="bold" fill="#222">Load pN</text>
<text transform="translate(64.80 561.70) rotate(-90) scale(1.0075 1)" font-size="38.8" text-anchor="middle" font-weight="normal" fill="#000">Forward / Backstep ratio</text>
<line x1="159.50" y1="387.80" x2="591.80" y2="632.00" stroke="#151515" stroke-width="2.4" stroke-linecap="round" stroke-dasharray="6.65 6.65" stroke-dashoffset="0"/>
<line x1="159.50" y1="387.80" x2="455.00" y2="554.20" stroke="#151515" stroke-width="2.4" stroke-linecap="round"/>
<circle cx="175.30" cy="386.00" r="7.3" fill="#000" stroke="#1c1c1c" stroke-width="1.8"/>
<line x1="175.30" y1="372.90" x2="175.30" y2="404.70" stroke="#1a1a1a" stroke-width="2.2" stroke-linecap="butt"/>
<line x1="166.10" y1="372.90" x2="184.50" y2="372.90" stroke="#111" stroke-width="2.3" stroke-linecap="round"/>
<line x1="166.10" y1="404.70" x2="184.50" y2="404.70" stroke="#111" stroke-width="2.3" stroke-linecap="round"/>
<circle cx="224.91" cy="437.40" r="7.3" fill="#000" stroke="#1c1c1c" stroke-width="1.8"/>
<line x1="224.91" y1="431.20" x2="224.91" y2="445.40" stroke="#1a1a1a" stroke-width="2.2" stroke-linecap="butt"/>
<line x1="215.71" y1="431.20" x2="234.11" y2="431.20" stroke="#111" stroke-width="2.3" stroke-linecap="round"/>
<line x1="215.71" y1="445.40" x2="234.11" y2="445.40" stroke="#111" stroke-width="2.3" stroke-linecap="round"/>
<circle cx="274.52" cy="455.40" r="7.3" fill="#000" stroke="#1c1c1c" stroke-width="1.8"/>
<line x1="274.52" y1="449.70" x2="274.52" y2="462.00" stroke="#1a1a1a" stroke-width="2.2" stroke-linecap="butt"/>
<line x1="265.32" y1="449.70" x2="283.72" y2="449.70" stroke="#111" stroke-width="2.3" stroke-linecap="round"/>
<line x1="265.32" y1="462.00" x2="283.72" y2="462.00" stroke="#111" stroke-width="2.3" stroke-linecap="round"/>
<circle cx="324.13" cy="478.30" r="7.3" fill="#000" stroke="#1c1c1c" stroke-width="1.8"/>
<line x1="324.13" y1="474.00" x2="324.13" y2="483.20" stroke="#1a1a1a" stroke-width="2.2" stroke-linecap="butt"/>
<line x1="314.93" y1="474.00" x2="333.33" y2="474.00" stroke="#111" stroke-width="2.3" stroke-linecap="round"/>
<line x1="314.93" y1="483.20" x2="333.33" y2="483.20" stroke="#111" stroke-width="2.3" stroke-linecap="round"/>
<circle cx="373.74" cy="507.20" r="7.3" fill="#000" stroke="#1c1c1c" stroke-width="1.8"/>
<line x1="373.74" y1="503.00" x2="373.74" y2="511.20" stroke="#1a1a1a" stroke-width="2.2" stroke-linecap="butt"/>
<line x1="364.54" y1="503.00" x2="382.94" y2="503.00" stroke="#111" stroke-width="2.3" stroke-linecap="round"/>
<line x1="364.54" y1="511.20" x2="382.94" y2="511.20" stroke="#111" stroke-width="2.3" stroke-linecap="round"/>
<circle cx="423.35" cy="534.10" r="7.3" fill="#000" stroke="#1c1c1c" stroke-width="1.8"/>
<line x1="423.35" y1="530.30" x2="423.35" y2="537.80" stroke="#1a1a1a" stroke-width="2.2" stroke-linecap="butt"/>
<line x1="414.15" y1="530.30" x2="432.55" y2="530.30" stroke="#111" stroke-width="2.3" stroke-linecap="round"/>
<line x1="414.15" y1="537.80" x2="432.55" y2="537.80" stroke="#111" stroke-width="2.3" stroke-linecap="round"/>
<circle cx="472.96" cy="533.40" r="7.3" fill="#000" stroke="#1c1c1c" stroke-width="1.8"/>
<line x1="472.96" y1="524.10" x2="472.96" y2="544.70" stroke="#1a1a1a" stroke-width="2.2" stroke-linecap="butt"/>
<line x1="463.76" y1="524.10" x2="482.16" y2="524.10" stroke="#111" stroke-width="2.3" stroke-linecap="round"/>
<line x1="463.76" y1="544.70" x2="482.16" y2="544.70" stroke="#111" stroke-width="2.3" stroke-linecap="round"/>
<circle cx="522.57" cy="552.10" r="7.3" fill="#000" stroke="#1c1c1c" stroke-width="1.8"/>
<line x1="522.57" y1="536.80" x2="522.57" y2="576.50" stroke="#1a1a1a" stroke-width="2.2" stroke-linecap="butt"/>
<line x1="513.37" y1="536.80" x2="531.77" y2="536.80" stroke="#111" stroke-width="2.3" stroke-linecap="round"/>
<line x1="513.37" y1="576.50" x2="531.77" y2="576.50" stroke="#111" stroke-width="2.3" stroke-linecap="round"/>
<rect x="173.40" y="602.50" width="17.60" height="17.50" fill="#0000ff"/>
<text transform="translate(206.50 620.30) scale(1.0230 1)" font-size="32.2" text-anchor="start" font-weight="normal" fill="#000">Forward steps &lt;12 nm</text>
<rect x="173.40" y="638.50" width="17.60" height="17.50" fill="#ff5000"/>
<text transform="translate(206.50 658.90) scale(1.0230 1)" font-size="32.2" text-anchor="start" font-weight="normal" fill="#000">Backward steps &lt;12 nm</text>
<rect x="173.40" y="679.40" width="17.60" height="17.50" fill="#be0a00"/>
<text transform="translate(206.50 697.70) scale(1.0230 1)" font-size="32.2" text-anchor="start" font-weight="normal" fill="#000">Backward steps &gt;12 nm</text>
<rect x="173.40" y="715.10" width="17.60" height="17.50" fill="#ffc000"/>
<text transform="translate(206.50 735.90) scale(1.0230 1)" font-size="32.2" text-anchor="start" font-weight="normal" fill="#000">Detachments</text>
<text transform="translate(632.50 347.00)" font-size="56" text-anchor="start" font-weight="bold" fill="#000">d</text>
<line x1="794.00" y1="579.10" x2="1222.00" y2="579.10" stroke="#adadad" stroke-width="2.2" stroke-linecap="round" stroke-dasharray="4.6 4.65"/>
<rect x="794.00" y="367.00" width="428.00" height="390.90" fill="none" stroke="#111" stroke-width="1.6"/>
<line x1="784.00" y1="414.60" x2="794.00" y2="414.60" stroke="#111" stroke-width="1.4" stroke-linecap="butt"/>
<text transform="translate(781.20 423.40) scale(1.0200 1)" font-size="38.5" text-anchor="end" font-weight="normal" fill="#000">100</text>
<line x1="784.00" y1="496.85" x2="794.00" y2="496.85" stroke="#111" stroke-width="1.4" stroke-linecap="butt"/>
<text transform="translate(778.80 506.00)" font-size="38.5" text-anchor="end" font-weight="normal" fill="#000">10</text>
<line x1="784.00" y1="579.10" x2="794.00" y2="579.10" stroke="#111" stroke-width="1.4" stroke-linecap="butt"/>
<text transform="translate(780.40 586.90)" font-size="38.5" text-anchor="end" font-weight="normal" fill="#000">1.0</text>
<line x1="784.00" y1="661.35" x2="794.00" y2="661.35" stroke="#111" stroke-width="1.4" stroke-linecap="butt"/>
<text transform="translate(779.00 669.00) scale(0.9140 1)" font-size="38.5" text-anchor="end" font-weight="normal" fill="#000">0.1</text>
<line x1="784.00" y1="743.60" x2="794.00" y2="743.60" stroke="#111" stroke-width="1.4" stroke-linecap="butt"/>
<text transform="translate(779.00 751.60) scale(0.9180 1)" font-size="38.5" text-anchor="end" font-weight="normal" fill="#000">0.01</text>
<line x1="810.10" y1="757.90" x2="810.10" y2="773.40" stroke="#111" stroke-width="1.4" stroke-linecap="butt"/>
<text transform="translate(812.30 808.40)" font-size="38.5" text-anchor="middle" font-weight="normal" fill="#000">2</text>
<line x1="859.54" y1="757.90" x2="859.54" y2="773.40" stroke="#111" stroke-width="1.4" stroke-linecap="butt"/>
<text transform="translate(860.64 808.40)" font-size="38.5" text-anchor="middle" font-weight="normal" fill="#000">3</text>
<line x1="908.98" y1="757.90" x2="908.98" y2="773.40" stroke="#111" stroke-width="1.4" stroke-linecap="butt"/>
<text transform="translate(908.98 808.40)" font-size="38.5" text-anchor="middle" font-weight="normal" fill="#000">4</text>
<line x1="958.42" y1="757.90" x2="958.42" y2="773.40" stroke="#111" stroke-width="1.4" stroke-linecap="butt"/>
<text transform="translate(957.32 808.40)" font-size="38.5" text-anchor="middle" font-weight="normal" fill="#000">5</text>
<line x1="1007.86" y1="757.90" x2="1007.86" y2="773.40" stroke="#111" stroke-width="1.4" stroke-linecap="butt"/>
<text transform="translate(1005.66 808.40)" font-size="38.5" text-anchor="middle" font-weight="normal" fill="#000">6</text>
<line x1="1057.30" y1="757.90" x2="1057.30" y2="773.40" stroke="#111" stroke-width="1.4" stroke-linecap="butt"/>
<text transform="translate(1054.00 808.40)" font-size="38.5" text-anchor="middle" font-weight="normal" fill="#000">7</text>
<line x1="1106.74" y1="757.90" x2="1106.74" y2="773.40" stroke="#111" stroke-width="1.4" stroke-linecap="butt"/>
<text transform="translate(1102.34 808.40)" font-size="38.5" text-anchor="middle" font-weight="normal" fill="#000">8</text>
<line x1="1156.18" y1="757.90" x2="1156.18" y2="773.40" stroke="#111" stroke-width="1.4" stroke-linecap="butt"/>
<text transform="translate(1150.68 808.40)" font-size="38.5" text-anchor="middle" font-weight="normal" fill="#000">9</text>
<line x1="1205.62" y1="757.90" x2="1205.62" y2="773.40" stroke="#111" stroke-width="1.4" stroke-linecap="butt"/>
<text transform="translate(1199.02 808.40)" font-size="38.5" text-anchor="middle" font-weight="normal" fill="#000">10</text>
<text transform="translate(1018.30 849.10)" font-size="38.3" text-anchor="middle" font-weight="bold" fill="#222">Load pN</text>
<text transform="translate(703.20 561.50) rotate(-90) scale(1.0075 1)" font-size="38.8" text-anchor="middle" font-weight="normal" fill="#000">Forward / Backstep ratio</text>
<circle cx="810.10" cy="541.90" r="7.3" fill="#000" stroke="#1c1c1c" stroke-width="1.8"/>
<line x1="810.10" y1="538.40" x2="810.10" y2="545.30" stroke="#1a1a1a" stroke-width="2.2" stroke-linecap="butt"/>
<line x1="800.90" y1="538.40" x2="819.30" y2="538.40" stroke="#111" stroke-width="2.3" stroke-linecap="round"/>
<line x1="800.90" y1="545.30" x2="819.30" y2="545.30" stroke="#111" stroke-width="2.3" stroke-linecap="round"/>
<circle cx="859.54" cy="543.20" r="7.3" fill="#000" stroke="#1c1c1c" stroke-width="1.8"/>
<line x1="859.54" y1="539.60" x2="859.54" y2="547.00" stroke="#1a1a1a" stroke-width="2.2" stroke-linecap="butt"/>
<line x1="850.34" y1="539.60" x2="868.74" y2="539.60" stroke="#111" stroke-width="2.3" stroke-linecap="round"/>
<line x1="850.34" y1="547.00" x2="868.74" y2="547.00" stroke="#111" stroke-width="2.3" stroke-linecap="round"/>
<circle cx="908.98" cy="551.60" r="7.3" fill="#000" stroke="#1c1c1c" stroke-width="1.8"/>
<line x1="908.98" y1="547.60" x2="908.98" y2="555.60" stroke="#1a1a1a" stroke-width="2.2" stroke-linecap="butt"/>
<line x1="899.78" y1="547.60" x2="918.18" y2="547.60" stroke="#111" stroke-width="2.3" stroke-linecap="round"/>
<line x1="899.78" y1="555.60" x2="918.18" y2="555.60" stroke="#111" stroke-width="2.3" stroke-linecap="round"/>
<circle cx="958.42" cy="538.40" r="7.3" fill="#000" stroke="#1c1c1c" stroke-width="1.8"/>
<line x1="958.42" y1="533.00" x2="958.42" y2="544.10" stroke="#1a1a1a" stroke-width="2.2" stroke-linecap="butt"/>
<line x1="949.22" y1="533.00" x2="967.62" y2="533.00" stroke="#111" stroke-width="2.3" stroke-linecap="round"/>
<line x1="949.22" y1="544.10" x2="967.62" y2="544.10" stroke="#111" stroke-width="2.3" stroke-linecap="round"/>
<circle cx="1007.86" cy="550.80" r="7.3" fill="#000" stroke="#1c1c1c" stroke-width="1.8"/>
<line x1="1007.86" y1="546.00" x2="1007.86" y2="556.00" stroke="#1a1a1a" stroke-width="2.2" stroke-linecap="butt"/>
<line x1="998.66" y1="546.00" x2="1017.06" y2="546.00" stroke="#111" stroke-width="2.3" stroke-linecap="round"/>
<line x1="998.66" y1="556.00" x2="1017.06" y2="556.00" stroke="#111" stroke-width="2.3" stroke-linecap="round"/>
<circle cx="1057.30" cy="558.80" r="7.3" fill="#000" stroke="#1c1c1c" stroke-width="1.8"/>
<line x1="1057.30" y1="550.80" x2="1057.30" y2="567.70" stroke="#1a1a1a" stroke-width="2.2" stroke-linecap="butt"/>
<line x1="1048.10" y1="550.80" x2="1066.50" y2="550.80" stroke="#111" stroke-width="2.3" stroke-linecap="round"/>
<line x1="1048.10" y1="567.70" x2="1066.50" y2="567.70" stroke="#111" stroke-width="2.3" stroke-linecap="round"/>
<circle cx="1106.74" cy="586.90" r="7.3" fill="#000" stroke="#1c1c1c" stroke-width="1.8"/>
<line x1="1106.74" y1="575.60" x2="1106.74" y2="604.20" stroke="#1a1a1a" stroke-width="2.2" stroke-linecap="butt"/>
<line x1="1097.54" y1="575.60" x2="1115.94" y2="575.60" stroke="#111" stroke-width="2.3" stroke-linecap="round"/>
<line x1="1097.54" y1="604.20" x2="1115.94" y2="604.20" stroke="#111" stroke-width="2.3" stroke-linecap="round"/>
<circle cx="1156.18" cy="589.40" r="7.3" fill="#000" stroke="#1c1c1c" stroke-width="1.8"/>
<line x1="1156.18" y1="569.10" x2="1156.18" y2="640.80" stroke="#1a1a1a" stroke-width="2.2" stroke-linecap="butt"/>
<line x1="1146.98" y1="569.10" x2="1165.38" y2="569.10" stroke="#111" stroke-width="2.3" stroke-linecap="round"/>
<line x1="1146.98" y1="640.80" x2="1165.38" y2="640.80" stroke="#111" stroke-width="2.3" stroke-linecap="round"/>
<circle cx="1205.62" cy="603.70" r="7.3" fill="#000" stroke="#1c1c1c" stroke-width="1.8"/>
<line x1="1205.62" y1="575.60" x2="1205.62" y2="757.90" stroke="#1a1a1a" stroke-width="2.2" stroke-linecap="butt"/>
<line x1="1196.42" y1="575.60" x2="1214.82" y2="575.60" stroke="#111" stroke-width="2.3" stroke-linecap="round"/>
<text transform="translate(-1.50 1210.80)" font-size="56" text-anchor="start" font-weight="bold" fill="#000">g</text>
<rect x="352.60" y="1206.40" width="236.70" height="390.00" fill="#f3f3f3"/>
<text transform="translate(380.90 1247.40) scale(1.0130 1)" font-size="37.5" text-anchor="start" font-weight="bold" fill="#222">Stage Step</text>
<line x1="158.30" y1="1418.50" x2="589.30" y2="1418.50" stroke="#adadad" stroke-width="2.2" stroke-linecap="round" stroke-dasharray="4.6 4.65"/>
<rect x="158.30" y="1206.40" width="431.00" height="390.00" fill="none" stroke="#111" stroke-width="1.6"/>
<line x1="147.50" y1="1253.90" x2="158.30" y2="1253.90" stroke="#111" stroke-width="1.4" stroke-linecap="butt"/>
<text transform="translate(147.80 1264.10) scale(1.0200 1)" font-size="38.5" text-anchor="end" font-weight="normal" fill="#000">100</text>
<line x1="147.50" y1="1336.20" x2="158.30" y2="1336.20" stroke="#111" stroke-width="1.4" stroke-linecap="butt"/>
<text transform="translate(145.40 1346.20)" font-size="38.5" text-anchor="end" font-weight="normal" fill="#000">10</text>
<line x1="147.50" y1="1418.50" x2="158.30" y2="1418.50" stroke="#111" stroke-width="1.4" stroke-linecap="butt"/>
<text transform="translate(147.00 1428.30)" font-size="38.5" text-anchor="end" font-weight="normal" fill="#000">1.0</text>
<line x1="147.50" y1="1500.80" x2="158.30" y2="1500.80" stroke="#111" stroke-width="1.4" stroke-linecap="butt"/>
<text transform="translate(145.60 1510.70) scale(0.9140 1)" font-size="38.5" text-anchor="end" font-weight="normal" fill="#000">0.1</text>
<line x1="147.50" y1="1583.10" x2="158.30" y2="1583.10" stroke="#111" stroke-width="1.4" stroke-linecap="butt"/>
<text transform="translate(145.60 1592.50) scale(0.9180 1)" font-size="38.5" text-anchor="end" font-weight="normal" fill="#000">0.01</text>
<line x1="174.60" y1="1596.40" x2="174.60" y2="1611.90" stroke="#111" stroke-width="1.4" stroke-linecap="butt"/>
<text transform="translate(177.20 1646.30)" font-size="38.5" text-anchor="middle" font-weight="normal" fill="#000">2</text>
<line x1="224.44" y1="1596.40" x2="224.44" y2="1611.90" stroke="#111" stroke-width="1.4" stroke-linecap="butt"/>
<text transform="translate(225.60 1646.30)" font-size="38.5" text-anchor="middle" font-weight="normal" fill="#000">3</text>
<line x1="274.28" y1="1596.40" x2="274.28" y2="1611.90" stroke="#111" stroke-width="1.4" stroke-linecap="butt"/>
<text transform="translate(274.00 1646.30)" font-size="38.5" text-anchor="middle" font-weight="normal" fill="#000">4</text>
<line x1="324.12" y1="1596.40" x2="324.12" y2="1611.90" stroke="#111" stroke-width="1.4" stroke-linecap="butt"/>
<text transform="translate(322.40 1646.30)" font-size="38.5" text-anchor="middle" font-weight="normal" fill="#000">5</text>
<line x1="373.96" y1="1596.40" x2="373.96" y2="1611.90" stroke="#111" stroke-width="1.4" stroke-linecap="butt"/>
<text transform="translate(370.80 1646.30)" font-size="38.5" text-anchor="middle" font-weight="normal" fill="#000">6</text>
<line x1="423.80" y1="1596.40" x2="423.80" y2="1611.90" stroke="#111" stroke-width="1.4" stroke-linecap="butt"/>
<text transform="translate(419.20 1646.30)" font-size="38.5" text-anchor="middle" font-weight="normal" fill="#000">7</text>
<line x1="473.64" y1="1596.40" x2="473.64" y2="1611.90" stroke="#111" stroke-width="1.4" stroke-linecap="butt"/>
<text transform="translate(467.60 1646.30)" font-size="38.5" text-anchor="middle" font-weight="normal" fill="#000">8</text>
<line x1="523.48" y1="1596.40" x2="523.48" y2="1611.90" stroke="#111" stroke-width="1.4" stroke-linecap="butt"/>
<text transform="translate(516.00 1646.30)" font-size="38.5" text-anchor="middle" font-weight="normal" fill="#000">9</text>
<line x1="573.32" y1="1596.40" x2="573.32" y2="1611.90" stroke="#111" stroke-width="1.4" stroke-linecap="butt"/>
<text transform="translate(564.40 1646.30)" font-size="38.5" text-anchor="middle" font-weight="normal" fill="#000">10</text>
<text transform="translate(383.10 1684.60)" font-size="38.3" text-anchor="middle" font-weight="bold" fill="#222">Load pN</text>
<text transform="translate(67.70 1396.20) rotate(-90) scale(1.0075 1)" font-size="38.8" text-anchor="middle" font-weight="normal" fill="#000">Forward / Backstep ratio</text>
<line x1="158.30" y1="1224.60" x2="589.30" y2="1496.20" stroke="#151515" stroke-width="2.4" stroke-linecap="round" stroke-dasharray="6.65 6.65" stroke-dashoffset="0"/>
<line x1="158.30" y1="1224.60" x2="473.00" y2="1422.90" stroke="#151515" stroke-width="2.4" stroke-linecap="round"/>
<circle cx="174.60" cy="1228.20" r="7.3" fill="#000" stroke="#1c1c1c" stroke-width="1.8"/>
<line x1="174.60" y1="1215.50" x2="174.60" y2="1247.40" stroke="#1a1a1a" stroke-width="2.2" stroke-linecap="butt"/>
<line x1="165.40" y1="1215.50" x2="183.80" y2="1215.50" stroke="#111" stroke-width="2.3" stroke-linecap="round"/>
<line x1="165.40" y1="1247.40" x2="183.80" y2="1247.40" stroke="#111" stroke-width="2.3" stroke-linecap="round"/>
<circle cx="224.44" cy="1280.30" r="7.3" fill="#000" stroke="#1c1c1c" stroke-width="1.8"/>
<line x1="224.44" y1="1273.70" x2="224.44" y2="1287.90" stroke="#1a1a1a" stroke-width="2.2" stroke-linecap="butt"/>
<line x1="215.24" y1="1273.70" x2="233.64" y2="1273.70" stroke="#111" stroke-width="2.3" stroke-linecap="round"/>
<line x1="215.24" y1="1287.90" x2="233.64" y2="1287.90" stroke="#111" stroke-width="2.3" stroke-linecap="round"/>
<circle cx="274.28" cy="1298.00" r="7.3" fill="#000" stroke="#1c1c1c" stroke-width="1.8"/>
<line x1="274.28" y1="1293.00" x2="274.28" y2="1303.00" stroke="#1a1a1a" stroke-width="2.2" stroke-linecap="butt"/>
<line x1="265.08" y1="1293.00" x2="283.48" y2="1293.00" stroke="#111" stroke-width="2.3" stroke-linecap="round"/>
<line x1="265.08" y1="1303.00" x2="283.48" y2="1303.00" stroke="#111" stroke-width="2.3" stroke-linecap="round"/>
<circle cx="324.12" cy="1321.70" r="7.3" fill="#000" stroke="#1c1c1c" stroke-width="1.8"/>
<line x1="324.12" y1="1317.20" x2="324.12" y2="1326.20" stroke="#1a1a1a" stroke-width="2.2" stroke-linecap="butt"/>
<line x1="314.92" y1="1317.20" x2="333.32" y2="1317.20" stroke="#111" stroke-width="2.3" stroke-linecap="round"/>
<line x1="314.92" y1="1326.20" x2="333.32" y2="1326.20" stroke="#111" stroke-width="2.3" stroke-linecap="round"/>
<circle cx="373.96" cy="1355.60" r="7.3" fill="#000" stroke="#1c1c1c" stroke-width="1.8"/>
<line x1="373.96" y1="1351.50" x2="373.96" y2="1359.50" stroke="#1a1a1a" stroke-width="2.2" stroke-linecap="butt"/>
<line x1="364.76" y1="1351.50" x2="383.16" y2="1351.50" stroke="#111" stroke-width="2.3" stroke-linecap="round"/>
<line x1="364.76" y1="1359.50" x2="383.16" y2="1359.50" stroke="#111" stroke-width="2.3" stroke-linecap="round"/>
<circle cx="423.80" cy="1397.60" r="7.3" fill="#000" stroke="#1c1c1c" stroke-width="1.8"/>
<line x1="423.80" y1="1393.50" x2="423.80" y2="1401.50" stroke="#1a1a1a" stroke-width="2.2" stroke-linecap="butt"/>
<line x1="414.60" y1="1393.50" x2="433.00" y2="1393.50" stroke="#111" stroke-width="2.3" stroke-linecap="round"/>
<line x1="414.60" y1="1401.50" x2="433.00" y2="1401.50" stroke="#111" stroke-width="2.3" stroke-linecap="round"/>
<circle cx="473.64" cy="1432.00" r="7.3" fill="#000" stroke="#1c1c1c" stroke-width="1.8"/>
<line x1="473.64" y1="1425.40" x2="473.64" y2="1438.10" stroke="#1a1a1a" stroke-width="2.2" stroke-linecap="butt"/>
<line x1="464.44" y1="1425.40" x2="482.84" y2="1425.40" stroke="#111" stroke-width="2.3" stroke-linecap="round"/>
<line x1="464.44" y1="1438.10" x2="482.84" y2="1438.10" stroke="#111" stroke-width="2.3" stroke-linecap="round"/>
<circle cx="523.48" cy="1489.70" r="7.3" fill="#000" stroke="#1c1c1c" stroke-width="1.8"/>
<line x1="523.48" y1="1479.60" x2="523.48" y2="1502.30" stroke="#1a1a1a" stroke-width="2.2" stroke-linecap="butt"/>
<line x1="514.28" y1="1479.60" x2="532.68" y2="1479.60" stroke="#111" stroke-width="2.3" stroke-linecap="round"/>
<line x1="514.28" y1="1502.30" x2="532.68" y2="1502.30" stroke="#111" stroke-width="2.3" stroke-linecap="round"/>
<text transform="translate(632.00 1211.00)" font-size="56" text-anchor="start" font-weight="bold" fill="#000">h</text>
<rect x="986.80" y="1206.10" width="235.30" height="390.60" fill="#f3f3f3"/>
<text transform="translate(1016.90 1247.60) scale(1.0130 1)" font-size="37.5" text-anchor="start" font-weight="bold" fill="#222">Stage Step</text>
<line x1="793.00" y1="1418.16" x2="1222.10" y2="1418.16" stroke="#adadad" stroke-width="2.2" stroke-linecap="round" stroke-dasharray="4.6 4.65"/>
<rect x="793.00" y="1206.10" width="429.10" height="390.60" fill="none" stroke="#111" stroke-width="1.6"/>
<line x1="783.00" y1="1253.50" x2="793.00" y2="1253.50" stroke="#111" stroke-width="1.4" stroke-linecap="butt"/>
<text transform="translate(781.20 1264.10) scale(1.0200 1)" font-size="38.5" text-anchor="end" font-weight="normal" fill="#000">100</text>
<line x1="783.00" y1="1335.83" x2="793.00" y2="1335.83" stroke="#111" stroke-width="1.4" stroke-linecap="butt"/>
<text transform="translate(778.80 1346.10)" font-size="38.5" text-anchor="end" font-weight="normal" fill="#000">10</text>
<line x1="783.00" y1="1418.16" x2="793.00" y2="1418.16" stroke="#111" stroke-width="1.4" stroke-linecap="butt"/>
<text transform="translate(780.40 1428.20)" font-size="38.5" text-anchor="end" font-weight="normal" fill="#000">1.0</text>
<line x1="783.00" y1="1500.49" x2="793.00" y2="1500.49" stroke="#111" stroke-width="1.4" stroke-linecap="butt"/>
<text transform="translate(779.00 1510.30) scale(0.9140 1)" font-size="38.5" text-anchor="end" font-weight="normal" fill="#000">0.1</text>
<line x1="783.00" y1="1582.82" x2="793.00" y2="1582.82" stroke="#111" stroke-width="1.4" stroke-linecap="butt"/>
<text transform="translate(779.00 1592.30) scale(0.9180 1)" font-size="38.5" text-anchor="end" font-weight="normal" fill="#000">0.01</text>
<line x1="809.10" y1="1596.70" x2="809.10" y2="1612.20" stroke="#111" stroke-width="1.4" stroke-linecap="butt"/>
<text transform="translate(812.40 1645.60)" font-size="38.5" text-anchor="middle" font-weight="normal" fill="#000">2</text>
<line x1="858.75" y1="1596.70" x2="858.75" y2="1612.20" stroke="#111" stroke-width="1.4" stroke-linecap="butt"/>
<text transform="translate(860.76 1645.60)" font-size="38.5" text-anchor="middle" font-weight="normal" fill="#000">3</text>
<line x1="908.40" y1="1596.70" x2="908.40" y2="1612.20" stroke="#111" stroke-width="1.4" stroke-linecap="butt"/>
<text transform="translate(909.12 1645.60)" font-size="38.5" text-anchor="middle" font-weight="normal" fill="#000">4</text>
<line x1="958.05" y1="1596.70" x2="958.05" y2="1612.20" stroke="#111" stroke-width="1.4" stroke-linecap="butt"/>
<text transform="translate(957.48 1645.60)" font-size="38.5" text-anchor="middle" font-weight="normal" fill="#000">5</text>
<line x1="1007.70" y1="1596.70" x2="1007.70" y2="1612.20" stroke="#111" stroke-width="1.4" stroke-linecap="butt"/>
<text transform="translate(1005.84 1645.60)" font-size="38.5" text-anchor="middle" font-weight="normal" fill="#000">6</text>
<line x1="1057.35" y1="1596.70" x2="1057.35" y2="1612.20" stroke="#111" stroke-width="1.4" stroke-linecap="butt"/>
<text transform="translate(1054.20 1645.60)" font-size="38.5" text-anchor="middle" font-weight="normal" fill="#000">7</text>
<line x1="1107.00" y1="1596.70" x2="1107.00" y2="1612.20" stroke="#111" stroke-width="1.4" stroke-linecap="butt"/>
<text transform="translate(1102.56 1645.60)" font-size="38.5" text-anchor="middle" font-weight="normal" fill="#000">8</text>
<line x1="1156.65" y1="1596.70" x2="1156.65" y2="1612.20" stroke="#111" stroke-width="1.4" stroke-linecap="butt"/>
<text transform="translate(1150.92 1645.60)" font-size="38.5" text-anchor="middle" font-weight="normal" fill="#000">9</text>
<line x1="1206.30" y1="1596.70" x2="1206.30" y2="1612.20" stroke="#111" stroke-width="1.4" stroke-linecap="butt"/>
<text transform="translate(1199.28 1645.60)" font-size="38.5" text-anchor="middle" font-weight="normal" fill="#000">10</text>
<text transform="translate(1018.60 1684.80)" font-size="38.3" text-anchor="middle" font-weight="bold" fill="#222">Load pN</text>
<text transform="translate(706.30 1396.20) rotate(-90) scale(1.0075 1)" font-size="38.8" text-anchor="middle" font-weight="normal" fill="#000">Forward / Backstep ratio</text>
<circle cx="809.10" cy="1381.10" r="7.3" fill="#000" stroke="#1c1c1c" stroke-width="1.8"/>
<line x1="809.10" y1="1377.00" x2="809.10" y2="1385.20" stroke="#1a1a1a" stroke-width="2.2" stroke-linecap="butt"/>
<line x1="799.90" y1="1377.00" x2="818.30" y2="1377.00" stroke="#111" stroke-width="2.3" stroke-linecap="round"/>
<line x1="799.90" y1="1385.20" x2="818.30" y2="1385.20" stroke="#111" stroke-width="2.3" stroke-linecap="round"/>
<circle cx="858.75" cy="1382.60" r="7.3" fill="#000" stroke="#1c1c1c" stroke-width="1.8"/>
<line x1="858.75" y1="1378.50" x2="858.75" y2="1386.70" stroke="#1a1a1a" stroke-width="2.2" stroke-linecap="butt"/>
<line x1="849.55" y1="1378.50" x2="867.95" y2="1378.50" stroke="#111" stroke-width="2.3" stroke-linecap="round"/>
<line x1="849.55" y1="1386.70" x2="867.95" y2="1386.70" stroke="#111" stroke-width="2.3" stroke-linecap="round"/>
<circle cx="908.40" cy="1391.00" r="7.3" fill="#000" stroke="#1c1c1c" stroke-width="1.8"/>
<line x1="908.40" y1="1387.00" x2="908.40" y2="1395.00" stroke="#1a1a1a" stroke-width="2.2" stroke-linecap="butt"/>
<line x1="899.20" y1="1387.00" x2="917.60" y2="1387.00" stroke="#111" stroke-width="2.3" stroke-linecap="round"/>
<line x1="899.20" y1="1395.00" x2="917.60" y2="1395.00" stroke="#111" stroke-width="2.3" stroke-linecap="round"/>
<circle cx="958.05" cy="1378.10" r="7.3" fill="#000" stroke="#1c1c1c" stroke-width="1.8"/>
<line x1="958.05" y1="1373.00" x2="958.05" y2="1383.50" stroke="#1a1a1a" stroke-width="2.2" stroke-linecap="butt"/>
<line x1="948.85" y1="1373.00" x2="967.25" y2="1373.00" stroke="#111" stroke-width="2.3" stroke-linecap="round"/>
<line x1="948.85" y1="1383.50" x2="967.25" y2="1383.50" stroke="#111" stroke-width="2.3" stroke-linecap="round"/>
<circle cx="1007.70" cy="1392.40" r="7.3" fill="#000" stroke="#1c1c1c" stroke-width="1.8"/>
<line x1="1007.70" y1="1387.50" x2="1007.70" y2="1398.40" stroke="#1a1a1a" stroke-width="2.2" stroke-linecap="butt"/>
<line x1="998.50" y1="1387.50" x2="1016.90" y2="1387.50" stroke="#111" stroke-width="2.3" stroke-linecap="round"/>
<line x1="998.50" y1="1398.40" x2="1016.90" y2="1398.40" stroke="#111" stroke-width="2.3" stroke-linecap="round"/>
<circle cx="1057.35" cy="1412.20" r="7.3" fill="#000" stroke="#1c1c1c" stroke-width="1.8"/>
<line x1="1057.35" y1="1406.30" x2="1057.35" y2="1420.60" stroke="#1a1a1a" stroke-width="2.2" stroke-linecap="butt"/>
<line x1="1048.15" y1="1406.30" x2="1066.55" y2="1406.30" stroke="#111" stroke-width="2.3" stroke-linecap="round"/>
<line x1="1048.15" y1="1420.60" x2="1066.55" y2="1420.60" stroke="#111" stroke-width="2.3" stroke-linecap="round"/>
<circle cx="1107.00" cy="1485.40" r="7.3" fill="#000" stroke="#1c1c1c" stroke-width="1.8"/>
<line x1="1107.00" y1="1478.50" x2="1107.00" y2="1496.20" stroke="#1a1a1a" stroke-width="2.2" stroke-linecap="butt"/>
<line x1="1097.80" y1="1478.50" x2="1116.20" y2="1478.50" stroke="#111" stroke-width="2.3" stroke-linecap="round"/>
<line x1="1097.80" y1="1496.20" x2="1116.20" y2="1496.20" stroke="#111" stroke-width="2.3" stroke-linecap="round"/>
<circle cx="1156.65" cy="1564.00" r="7.3" fill="#000" stroke="#1c1c1c" stroke-width="1.8"/>
<line x1="1156.65" y1="1547.20" x2="1156.65" y2="1594.10" stroke="#1a1a1a" stroke-width="2.2" stroke-linecap="butt"/>
<line x1="1147.45" y1="1547.20" x2="1165.85" y2="1547.20" stroke="#111" stroke-width="2.3" stroke-linecap="round"/>
<line x1="1147.45" y1="1594.10" x2="1165.85" y2="1594.10" stroke="#111" stroke-width="2.3" stroke-linecap="round"/>
<circle cx="1206.30" cy="1581.30" r="7.3" fill="#000" stroke="#1c1c1c" stroke-width="1.8"/>
<line x1="1206.30" y1="1556.60" x2="1206.30" y2="1596.70" stroke="#1a1a1a" stroke-width="2.2" stroke-linecap="butt"/>
<line x1="1197.10" y1="1556.60" x2="1215.50" y2="1556.60" stroke="#111" stroke-width="2.3" stroke-linecap="round"/>
<text transform="translate(-2.50 2045.70)" font-size="56" text-anchor="start" font-weight="bold" fill="#000">k</text>
<line x1="157.30" y1="2271.40" x2="585.20" y2="2271.40" stroke="#adadad" stroke-width="2.2" stroke-linecap="round" stroke-dasharray="4.6 4.65"/>
<rect x="157.30" y="2059.10" width="427.90" height="392.20" fill="none" stroke="#111" stroke-width="1.6"/>
<line x1="146.50" y1="2105.90" x2="157.30" y2="2105.90" stroke="#111" stroke-width="1.4" stroke-linecap="butt"/>
<text transform="translate(143.40 2118.80) scale(1.0200 1)" font-size="38.5" text-anchor="end" font-weight="normal" fill="#000">100</text>
<line x1="146.50" y1="2188.65" x2="157.30" y2="2188.65" stroke="#111" stroke-width="1.4" stroke-linecap="butt"/>
<text transform="translate(141.00 2199.70)" font-size="38.5" text-anchor="end" font-weight="normal" fill="#000">10</text>
<line x1="146.50" y1="2271.40" x2="157.30" y2="2271.40" stroke="#111" stroke-width="1.4" stroke-linecap="butt"/>
<text transform="translate(142.60 2280.60)" font-size="38.5" text-anchor="end" font-weight="normal" fill="#000">1.0</text>
<line x1="146.50" y1="2354.15" x2="157.30" y2="2354.15" stroke="#111" stroke-width="1.4" stroke-linecap="butt"/>
<text transform="translate(141.20 2361.60) scale(0.9140 1)" font-size="38.5" text-anchor="end" font-weight="normal" fill="#000">0.1</text>
<line x1="146.50" y1="2436.90" x2="157.30" y2="2436.90" stroke="#111" stroke-width="1.4" stroke-linecap="butt"/>
<text transform="translate(141.20 2442.50) scale(0.9180 1)" font-size="38.5" text-anchor="end" font-weight="normal" fill="#000">0.01</text>
<line x1="173.10" y1="2451.30" x2="173.10" y2="2466.80" stroke="#111" stroke-width="1.4" stroke-linecap="butt"/>
<text transform="translate(173.50 2499.80)" font-size="38.5" text-anchor="middle" font-weight="normal" fill="#000">2</text>
<line x1="222.60" y1="2451.30" x2="222.60" y2="2466.80" stroke="#111" stroke-width="1.4" stroke-linecap="butt"/>
<text transform="translate(221.85 2499.80)" font-size="38.5" text-anchor="middle" font-weight="normal" fill="#000">3</text>
<line x1="272.10" y1="2451.30" x2="272.10" y2="2466.80" stroke="#111" stroke-width="1.4" stroke-linecap="butt"/>
<text transform="translate(270.20 2499.80)" font-size="38.5" text-anchor="middle" font-weight="normal" fill="#000">4</text>
<line x1="321.60" y1="2451.30" x2="321.60" y2="2466.80" stroke="#111" stroke-width="1.4" stroke-linecap="butt"/>
<text transform="translate(318.55 2499.80)" font-size="38.5" text-anchor="middle" font-weight="normal" fill="#000">5</text>
<line x1="371.10" y1="2451.30" x2="371.10" y2="2466.80" stroke="#111" stroke-width="1.4" stroke-linecap="butt"/>
<text transform="translate(366.90 2499.80)" font-size="38.5" text-anchor="middle" font-weight="normal" fill="#000">6</text>
<line x1="420.60" y1="2451.30" x2="420.60" y2="2466.80" stroke="#111" stroke-width="1.4" stroke-linecap="butt"/>
<text transform="translate(415.25 2499.80)" font-size="38.5" text-anchor="middle" font-weight="normal" fill="#000">7</text>
<line x1="470.10" y1="2451.30" x2="470.10" y2="2466.80" stroke="#111" stroke-width="1.4" stroke-linecap="butt"/>
<text transform="translate(463.60 2499.80)" font-size="38.5" text-anchor="middle" font-weight="normal" fill="#000">8</text>
<line x1="519.60" y1="2451.30" x2="519.60" y2="2466.80" stroke="#111" stroke-width="1.4" stroke-linecap="butt"/>
<text transform="translate(511.95 2499.80)" font-size="38.5" text-anchor="middle" font-weight="normal" fill="#000">9</text>
<line x1="569.10" y1="2451.30" x2="569.10" y2="2466.80" stroke="#111" stroke-width="1.4" stroke-linecap="butt"/>
<text transform="translate(560.30 2499.80)" font-size="38.5" text-anchor="middle" font-weight="normal" fill="#000">10</text>
<text transform="translate(378.20 2540.20)" font-size="38.3" text-anchor="middle" font-weight="bold" fill="#222">Load pN</text>
<text transform="translate(62.40 2249.90) rotate(-90) scale(1.0075 1)" font-size="38.8" text-anchor="middle" font-weight="normal" fill="#000">Forward / Backstep ratio</text>
<line x1="157.30" y1="2128.50" x2="585.20" y2="2363.80" stroke="#151515" stroke-width="2.4" stroke-linecap="round" stroke-dasharray="6.65 6.65" stroke-dashoffset="-7.1"/>
<line x1="157.30" y1="2128.50" x2="401.20" y2="2263.50" stroke="#151515" stroke-width="2.4" stroke-linecap="round"/>
<circle cx="173.10" cy="2161.70" r="7.3" fill="#000" stroke="#1c1c1c" stroke-width="1.8"/>
<line x1="173.10" y1="2145.60" x2="173.10" y2="2194.60" stroke="#1a1a1a" stroke-width="2.2" stroke-linecap="butt"/>
<line x1="163.90" y1="2145.60" x2="182.30" y2="2145.60" stroke="#111" stroke-width="2.3" stroke-linecap="round"/>
<line x1="163.90" y1="2194.60" x2="182.30" y2="2194.60" stroke="#111" stroke-width="2.3" stroke-linecap="round"/>
<circle cx="222.60" cy="2155.70" r="7.3" fill="#000" stroke="#1c1c1c" stroke-width="1.8"/>
<line x1="222.60" y1="2142.50" x2="222.60" y2="2178.40" stroke="#1a1a1a" stroke-width="2.2" stroke-linecap="butt"/>
<line x1="213.40" y1="2142.50" x2="231.80" y2="2142.50" stroke="#111" stroke-width="2.3" stroke-linecap="round"/>
<line x1="213.40" y1="2178.40" x2="231.80" y2="2178.40" stroke="#111" stroke-width="2.3" stroke-linecap="round"/>
<circle cx="272.10" cy="2197.20" r="7.3" fill="#000" stroke="#1c1c1c" stroke-width="1.8"/>
<line x1="272.10" y1="2189.60" x2="272.10" y2="2206.30" stroke="#1a1a1a" stroke-width="2.2" stroke-linecap="butt"/>
<line x1="262.90" y1="2189.60" x2="281.30" y2="2189.60" stroke="#111" stroke-width="2.3" stroke-linecap="round"/>
<line x1="262.90" y1="2206.30" x2="281.30" y2="2206.30" stroke="#111" stroke-width="2.3" stroke-linecap="round"/>
<circle cx="321.60" cy="2227.50" r="7.3" fill="#000" stroke="#1c1c1c" stroke-width="1.8"/>
<line x1="321.60" y1="2220.90" x2="321.60" y2="2235.10" stroke="#1a1a1a" stroke-width="2.2" stroke-linecap="butt"/>
<line x1="312.40" y1="2220.90" x2="330.80" y2="2220.90" stroke="#111" stroke-width="2.3" stroke-linecap="round"/>
<line x1="312.40" y1="2235.10" x2="330.80" y2="2235.10" stroke="#111" stroke-width="2.3" stroke-linecap="round"/>
<circle cx="371.10" cy="2237.60" r="7.3" fill="#000" stroke="#1c1c1c" stroke-width="1.8"/>
<line x1="371.10" y1="2229.00" x2="371.10" y2="2246.70" stroke="#1a1a1a" stroke-width="2.2" stroke-linecap="butt"/>
<line x1="361.90" y1="2229.00" x2="380.30" y2="2229.00" stroke="#111" stroke-width="2.3" stroke-linecap="round"/>
<line x1="361.90" y1="2246.70" x2="380.30" y2="2246.70" stroke="#111" stroke-width="2.3" stroke-linecap="round"/>
<circle cx="420.60" cy="2240.10" r="7.3" fill="#000" stroke="#1c1c1c" stroke-width="1.8"/>
<line x1="420.60" y1="2229.00" x2="420.60" y2="2256.80" stroke="#1a1a1a" stroke-width="2.2" stroke-linecap="butt"/>
<line x1="411.40" y1="2229.00" x2="429.80" y2="2229.00" stroke="#111" stroke-width="2.3" stroke-linecap="round"/>
<line x1="411.40" y1="2256.80" x2="429.80" y2="2256.80" stroke="#111" stroke-width="2.3" stroke-linecap="round"/>
<circle cx="470.10" cy="2271.50" r="7.3" fill="#000" stroke="#1c1c1c" stroke-width="1.8"/>
<line x1="470.10" y1="2240.10" x2="470.10" y2="2451.30" stroke="#1a1a1a" stroke-width="2.2" stroke-linecap="butt"/>
<line x1="460.90" y1="2240.10" x2="479.30" y2="2240.10" stroke="#111" stroke-width="2.3" stroke-linecap="round"/>
<text transform="translate(632.00 2045.70)" font-size="56" text-anchor="start" font-weight="bold" fill="#000">l</text>
<line x1="793.00" y1="2272.65" x2="1223.10" y2="2272.65" stroke="#adadad" stroke-width="2.2" stroke-linecap="round" stroke-dasharray="4.6 4.65"/>
<rect x="793.00" y="2059.40" width="430.10" height="392.60" fill="none" stroke="#111" stroke-width="1.6"/>
<line x1="783.00" y1="2107.90" x2="793.00" y2="2107.90" stroke="#111" stroke-width="1.4" stroke-linecap="butt"/>
<text transform="translate(782.10 2120.60) scale(1.0200 1)" font-size="38.5" text-anchor="end" font-weight="normal" fill="#000">100</text>
<line x1="783.00" y1="2190.28" x2="793.00" y2="2190.28" stroke="#111" stroke-width="1.4" stroke-linecap="butt"/>
<text transform="translate(779.70 2201.50)" font-size="38.5" text-anchor="end" font-weight="normal" fill="#000">10</text>
<line x1="783.00" y1="2272.65" x2="793.00" y2="2272.65" stroke="#111" stroke-width="1.4" stroke-linecap="butt"/>
<text transform="translate(781.30 2282.30)" font-size="38.5" text-anchor="end" font-weight="normal" fill="#000">1.0</text>
<line x1="783.00" y1="2355.03" x2="793.00" y2="2355.03" stroke="#111" stroke-width="1.4" stroke-linecap="butt"/>
<text transform="translate(779.90 2363.20) scale(0.9140 1)" font-size="38.5" text-anchor="end" font-weight="normal" fill="#000">0.1</text>
<line x1="783.00" y1="2437.40" x2="793.00" y2="2437.40" stroke="#111" stroke-width="1.4" stroke-linecap="butt"/>
<text transform="translate(779.90 2444.00) scale(0.9180 1)" font-size="38.5" text-anchor="end" font-weight="normal" fill="#000">0.01</text>
<line x1="809.10" y1="2452.00" x2="809.10" y2="2467.50" stroke="#111" stroke-width="1.4" stroke-linecap="butt"/>
<text transform="translate(810.20 2499.90)" font-size="38.5" text-anchor="middle" font-weight="normal" fill="#000">2</text>
<line x1="858.89" y1="2452.00" x2="858.89" y2="2467.50" stroke="#111" stroke-width="1.4" stroke-linecap="butt"/>
<text transform="translate(858.70 2499.90)" font-size="38.5" text-anchor="middle" font-weight="normal" fill="#000">3</text>
<line x1="908.68" y1="2452.00" x2="908.68" y2="2467.50" stroke="#111" stroke-width="1.4" stroke-linecap="butt"/>
<text transform="translate(907.20 2499.90)" font-size="38.5" text-anchor="middle" font-weight="normal" fill="#000">4</text>
<line x1="958.47" y1="2452.00" x2="958.47" y2="2467.50" stroke="#111" stroke-width="1.4" stroke-linecap="butt"/>
<text transform="translate(955.70 2499.90)" font-size="38.5" text-anchor="middle" font-weight="normal" fill="#000">5</text>
<line x1="1008.26" y1="2452.00" x2="1008.26" y2="2467.50" stroke="#111" stroke-width="1.4" stroke-linecap="butt"/>
<text transform="translate(1004.20 2499.90)" font-size="38.5" text-anchor="middle" font-weight="normal" fill="#000">6</text>
<line x1="1058.05" y1="2452.00" x2="1058.05" y2="2467.50" stroke="#111" stroke-width="1.4" stroke-linecap="butt"/>
<text transform="translate(1052.70 2499.90)" font-size="38.5" text-anchor="middle" font-weight="normal" fill="#000">7</text>
<line x1="1107.84" y1="2452.00" x2="1107.84" y2="2467.50" stroke="#111" stroke-width="1.4" stroke-linecap="butt"/>
<text transform="translate(1101.20 2499.90)" font-size="38.5" text-anchor="middle" font-weight="normal" fill="#000">8</text>
<line x1="1157.63" y1="2452.00" x2="1157.63" y2="2467.50" stroke="#111" stroke-width="1.4" stroke-linecap="butt"/>
<text transform="translate(1149.70 2499.90)" font-size="38.5" text-anchor="middle" font-weight="normal" fill="#000">9</text>
<line x1="1207.42" y1="2452.00" x2="1207.42" y2="2467.50" stroke="#111" stroke-width="1.4" stroke-linecap="butt"/>
<text transform="translate(1198.20 2499.90)" font-size="38.5" text-anchor="middle" font-weight="normal" fill="#000">10</text>
<text transform="translate(1012.80 2541.00)" font-size="38.3" text-anchor="middle" font-weight="bold" fill="#222">Load pN</text>
<text transform="translate(701.20 2249.90) rotate(-90) scale(1.0075 1)" font-size="38.8" text-anchor="middle" font-weight="normal" fill="#000">Forward / Backstep ratio</text>
<line x1="793.00" y1="2153.30" x2="1224.00" y2="2382.10" stroke="#151515" stroke-width="2.4" stroke-linecap="round" stroke-dasharray="6.65 6.65" stroke-dashoffset="-2.6"/>
<line x1="793.00" y1="2153.30" x2="1023.70" y2="2275.90" stroke="#151515" stroke-width="2.4" stroke-linecap="round"/>
<circle cx="809.10" cy="2184.00" r="7.3" fill="#000" stroke="#1c1c1c" stroke-width="1.8"/>
<line x1="809.10" y1="2176.10" x2="809.10" y2="2192.90" stroke="#1a1a1a" stroke-width="2.2" stroke-linecap="butt"/>
<line x1="799.90" y1="2176.10" x2="818.30" y2="2176.10" stroke="#111" stroke-width="2.3" stroke-linecap="round"/>
<line x1="799.90" y1="2192.90" x2="818.30" y2="2192.90" stroke="#111" stroke-width="2.3" stroke-linecap="round"/>
<circle cx="858.89" cy="2190.90" r="7.3" fill="#000" stroke="#1c1c1c" stroke-width="1.8"/>
<line x1="858.89" y1="2184.00" x2="858.89" y2="2198.80" stroke="#1a1a1a" stroke-width="2.2" stroke-linecap="butt"/>
<line x1="849.69" y1="2184.00" x2="868.09" y2="2184.00" stroke="#111" stroke-width="2.3" stroke-linecap="round"/>
<line x1="849.69" y1="2198.80" x2="868.09" y2="2198.80" stroke="#111" stroke-width="2.3" stroke-linecap="round"/>
<circle cx="908.68" cy="2212.70" r="7.3" fill="#000" stroke="#1c1c1c" stroke-width="1.8"/>
<line x1="908.68" y1="2205.80" x2="908.68" y2="2219.60" stroke="#1a1a1a" stroke-width="2.2" stroke-linecap="butt"/>
<line x1="899.48" y1="2205.80" x2="917.88" y2="2205.80" stroke="#111" stroke-width="2.3" stroke-linecap="round"/>
<line x1="899.48" y1="2219.60" x2="917.88" y2="2219.60" stroke="#111" stroke-width="2.3" stroke-linecap="round"/>
<circle cx="958.47" cy="2233.40" r="7.3" fill="#000" stroke="#1c1c1c" stroke-width="1.8"/>
<line x1="958.47" y1="2226.00" x2="958.47" y2="2243.30" stroke="#1a1a1a" stroke-width="2.2" stroke-linecap="butt"/>
<line x1="949.27" y1="2226.00" x2="967.67" y2="2226.00" stroke="#111" stroke-width="2.3" stroke-linecap="round"/>
<line x1="949.27" y1="2243.30" x2="967.67" y2="2243.30" stroke="#111" stroke-width="2.3" stroke-linecap="round"/>
<circle cx="1008.26" cy="2272.00" r="7.3" fill="#000" stroke="#1c1c1c" stroke-width="1.8"/>
<line x1="1008.26" y1="2261.60" x2="1008.26" y2="2287.80" stroke="#1a1a1a" stroke-width="2.2" stroke-linecap="butt"/>
<line x1="999.06" y1="2261.60" x2="1017.46" y2="2261.60" stroke="#111" stroke-width="2.3" stroke-linecap="round"/>
<line x1="999.06" y1="2287.80" x2="1017.46" y2="2287.80" stroke="#111" stroke-width="2.3" stroke-linecap="round"/>
</svg>
</body></html>
